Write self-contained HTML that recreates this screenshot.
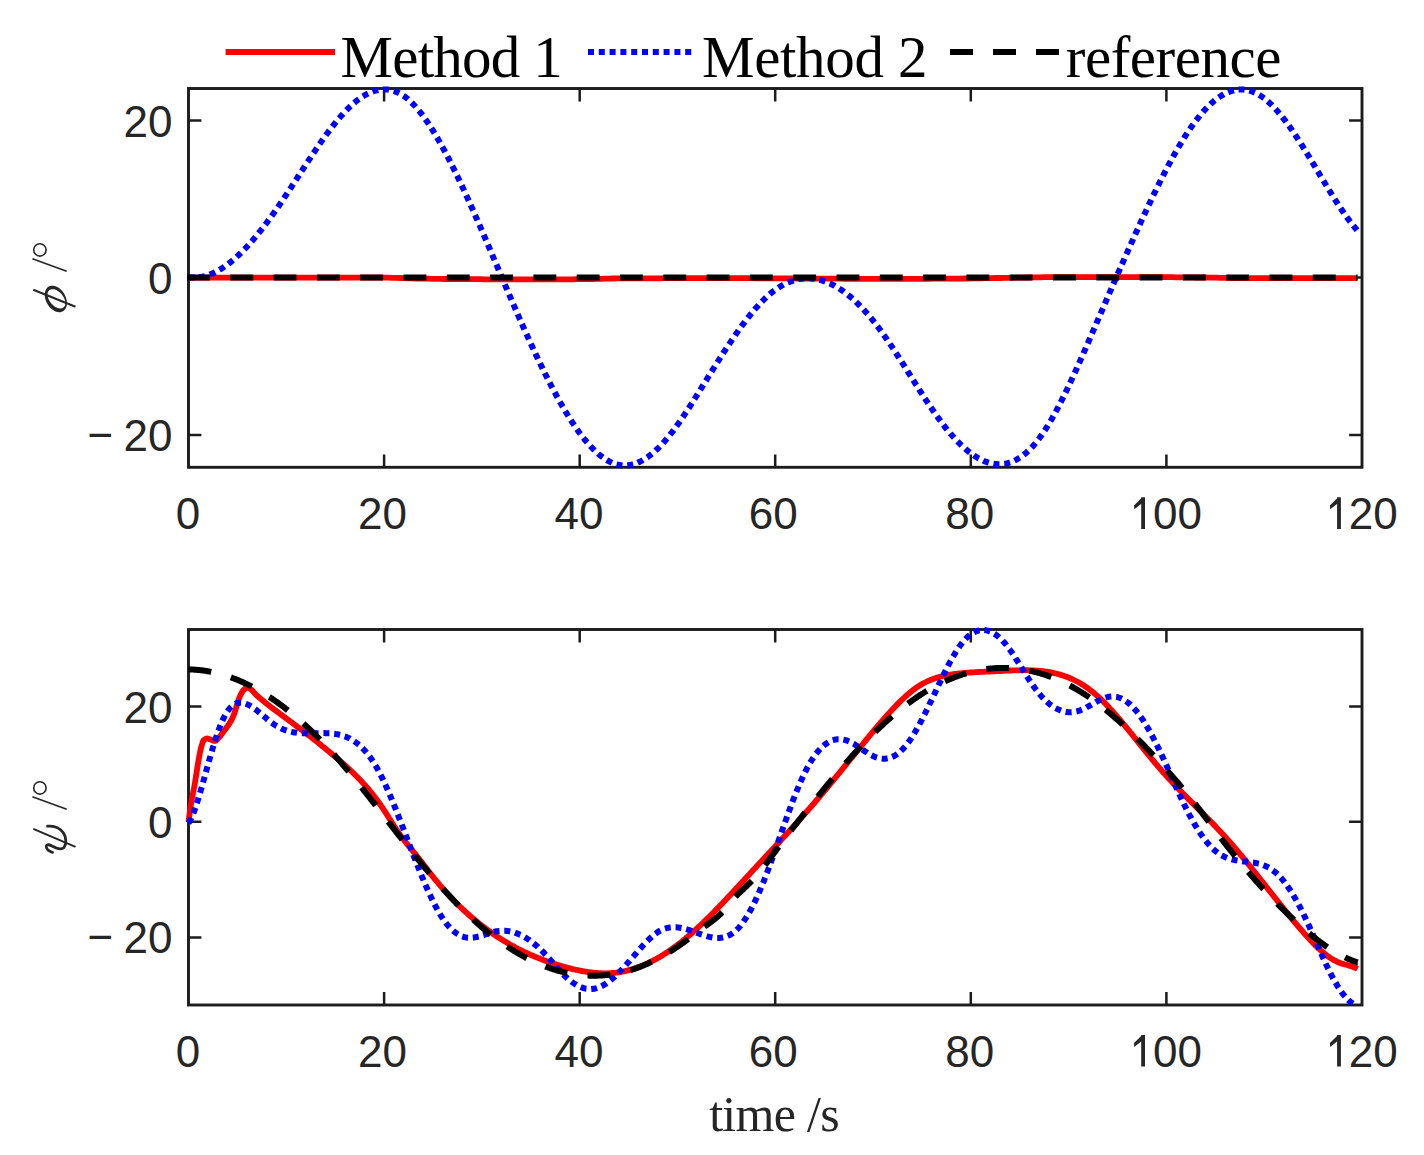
<!DOCTYPE html>
<html><head><meta charset="utf-8"><style>
html,body{margin:0;padding:0;background:#fff;}
svg{display:block;}
.tk{font-family:"Liberation Sans",sans-serif;font-size:44px;fill:#262626;}
.lg{font-family:"Liberation Serif",serif;font-size:59px;fill:#000;}
.xl{font-family:"Liberation Serif",serif;font-size:50px;fill:#262626;}
</style></head><body>
<svg width="1424" height="1155" viewBox="0 0 1424 1155">
<rect width="1424" height="1155" fill="#fff"/>
<rect x="188.5" y="88.5" width="1173.5" height="378.8" fill="none" stroke="#1c1c1c" stroke-width="2.9"/>
<path d="M384.1,467.3V454.4M384.1,88.5V101.4M579.7,467.3V454.4M579.7,88.5V101.4M775.2,467.3V454.4M775.2,88.5V101.4M970.8,467.3V454.4M970.8,88.5V101.4M1166.4,467.3V454.4M1166.4,88.5V101.4M188.5,120.5H201.4M1362.0,120.5H1349.1M188.5,277.6H201.4M1362.0,277.6H1349.1M188.5,435.0H201.4M1362.0,435.0H1349.1" stroke="#1c1c1c" stroke-width="2.5" fill="none"/>
<text x="188.0" y="529.0" text-anchor="middle" class="tk">0</text>
<text x="382.6" y="529.0" text-anchor="middle" class="tk">20</text>
<text x="579.1" y="529.0" text-anchor="middle" class="tk">40</text>
<text x="773.2" y="529.0" text-anchor="middle" class="tk">60</text>
<text x="969.8" y="529.0" text-anchor="middle" class="tk">80</text>
<path d="M1141.2,529.0V497.3H1145.0V529.0ZM1134.0,505.5L1142.2,497.3L1141.4,503.7L1134.3,509.3Z" fill="#262626"/>
<text x="1153.1" y="529.0" class="tk">00</text>
<path d="M1337.1,529.0V497.3H1340.9V529.0ZM1329.9,505.5L1338.1,497.3L1337.3,503.7L1330.2,509.3Z" fill="#262626"/>
<text x="1348.7" y="529.0" class="tk">20</text>
<text x="172.5" y="137.1" text-anchor="end" class="tk">20</text>
<text x="172.5" y="294.2" text-anchor="end" class="tk">0</text>
<text x="172.5" y="451.0" text-anchor="end" class="tk">20</text>
<text x="100.3" y="450.0" text-anchor="middle" class="tk">&#8722;</text>
<path d="M188.5,277.6 192.5,277.6 196.5,277.6 200.5,277.6 204.5,277.6 208.5,277.6 212.5,277.6 216.5,277.6 220.5,277.6 224.5,277.6 228.5,277.6 232.5,277.6 236.5,277.6 240.5,277.6 244.5,277.6 248.5,277.6 252.5,277.6 256.5,277.6 260.5,277.6 264.5,277.6 268.5,277.6 272.5,277.6 276.5,277.6 280.5,277.6 284.5,277.6 288.5,277.6 292.5,277.6 296.5,277.6 300.5,277.6 304.5,277.6 308.5,277.6 312.5,277.6 316.5,277.6 320.5,277.6 324.5,277.6 328.5,277.6 332.5,277.6 336.5,277.6 340.5,277.6 344.5,277.6 348.5,277.6 352.5,277.6 356.5,277.6 360.5,277.6 364.5,277.6 368.5,277.6 372.5,277.6 376.5,277.6 380.5,277.6 384.5,277.6 388.5,277.7 392.5,277.8 396.5,277.9 400.5,278.0 404.5,278.2 408.5,278.3 412.5,278.4 416.5,278.5 420.5,278.6 424.5,278.7 428.5,278.7 432.5,278.8 436.5,278.9 440.5,278.9 444.5,279.0 448.5,279.0 452.5,279.1 456.5,279.1 460.5,279.1 464.5,279.2 468.5,279.2 472.5,279.2 476.5,279.2 480.5,279.2 484.5,279.3 488.5,279.3 492.5,279.3 496.5,279.3 500.5,279.3 504.5,279.3 508.5,279.4 512.5,279.4 516.5,279.4 520.5,279.4 524.5,279.4 528.5,279.4 532.5,279.4 536.5,279.4 540.5,279.4 544.5,279.4 548.5,279.4 552.5,279.4 556.5,279.4 560.5,279.3 564.5,279.3 568.5,279.3 572.5,279.3 576.5,279.2 580.5,279.2 584.5,279.1 588.5,279.1 592.5,279.0 596.5,278.9 600.5,278.8 604.5,278.7 608.5,278.6 612.5,278.5 616.5,278.4 620.5,278.4 624.5,278.4 628.5,278.4 632.5,278.3 636.5,278.3 640.5,278.3 644.5,278.3 648.5,278.3 652.5,278.3 656.5,278.3 660.5,278.3 664.5,278.2 668.5,278.2 672.5,278.2 676.5,278.2 680.5,278.2 684.5,278.2 688.5,278.2 692.5,278.2 696.5,278.2 700.5,278.2 704.5,278.2 708.5,278.2 712.5,278.2 716.5,278.2 720.5,278.2 724.5,278.2 728.5,278.2 732.5,278.2 736.5,278.2 740.5,278.2 744.5,278.2 748.5,278.2 752.5,278.2 756.5,278.3 760.5,278.3 764.5,278.3 768.5,278.3 772.5,278.3 776.5,278.3 780.5,278.3 784.5,278.3 788.5,278.4 792.5,278.4 796.5,278.5 800.5,278.5 804.5,278.6 808.5,278.6 812.5,278.7 816.5,278.7 820.5,278.7 824.5,278.7 828.5,278.7 832.5,278.7 836.5,278.7 840.5,278.7 844.5,278.8 848.5,278.8 852.5,278.8 856.5,278.8 860.5,278.8 864.5,278.8 868.5,278.8 872.5,278.8 876.5,278.8 880.5,278.8 884.5,278.8 888.5,278.8 892.5,278.8 896.5,278.8 900.5,278.8 904.5,278.8 908.5,278.8 912.5,278.8 916.5,278.8 920.5,278.8 924.5,278.8 928.5,278.8 932.5,278.7 936.5,278.7 940.5,278.7 944.5,278.7 948.5,278.7 952.5,278.7 956.5,278.6 960.5,278.6 964.5,278.5 968.5,278.5 972.5,278.4 976.5,278.4 980.5,278.3 984.5,278.2 988.5,278.2 992.5,278.1 996.5,278.0 1000.5,278.0 1004.5,277.9 1008.5,277.9 1012.5,277.8 1016.5,277.7 1020.5,277.6 1024.5,277.6 1028.5,277.5 1032.5,277.4 1036.5,277.3 1040.5,277.3 1044.5,277.2 1048.5,277.2 1052.5,277.1 1056.5,277.1 1060.5,277.1 1064.5,277.1 1068.5,277.1 1072.5,277.1 1076.5,277.1 1080.5,277.1 1084.5,277.1 1088.5,277.1 1092.5,277.1 1096.5,277.1 1100.5,277.1 1104.5,277.1 1108.5,277.1 1112.5,277.1 1116.5,277.1 1120.5,277.1 1124.5,277.1 1128.5,277.1 1132.5,277.1 1136.5,277.1 1140.5,277.1 1144.5,277.1 1148.5,277.1 1152.5,277.1 1156.5,277.1 1160.5,277.1 1164.5,277.2 1168.5,277.2 1172.5,277.2 1176.5,277.3 1180.5,277.3 1184.5,277.3 1188.5,277.4 1192.5,277.4 1196.5,277.5 1200.5,277.5 1204.5,277.5 1208.5,277.6 1212.5,277.7 1216.5,277.7 1220.5,277.8 1224.5,277.8 1228.5,277.9 1232.5,278.0 1236.5,278.0 1240.5,278.1 1244.5,278.1 1248.5,278.1 1252.5,278.2 1256.5,278.2 1260.5,278.2 1264.5,278.2 1268.5,278.2 1272.5,278.2 1276.5,278.2 1280.5,278.2 1284.5,278.2 1288.5,278.2 1292.5,278.2 1296.5,278.2 1300.5,278.2 1304.5,278.2 1308.5,278.2 1312.5,278.2 1316.5,278.2 1320.5,278.2 1324.5,278.2 1328.5,278.2 1332.5,278.2 1336.5,278.2 1340.5,278.2 1344.5,278.2 1348.5,278.2 1352.5,278.2 1356.5,278.2 1357.5,278.2" fill="none" stroke="#ff0000" stroke-width="5.8" stroke-linejoin="round"/>
<path d="M188.5,277.2 189.5,277.3 190.5,277.4 191.5,277.5 192.5,277.5 193.5,277.6 194.5,277.6 195.5,277.5 196.5,277.5 197.5,277.4 198.5,277.3 199.5,277.2 200.5,277.0 201.5,276.9 202.5,276.7 203.5,276.4 204.5,276.2 205.5,275.9 206.5,275.6 207.5,275.3 208.5,275.0 209.5,274.6 210.5,274.2 211.5,273.8 212.5,273.4 213.5,273.0 214.5,272.5 215.5,272.0 216.5,271.5 217.5,271.0 218.5,270.4 219.5,269.8 220.5,269.2 221.5,268.6 222.5,268.0 223.5,267.3 224.5,266.6 225.5,265.9 226.5,265.2 227.5,264.5 228.5,263.7 229.5,263.0 230.5,262.2 231.5,261.4 232.5,260.5 233.5,259.7 234.5,258.8 235.5,257.9 236.5,257.0 237.5,256.1 238.5,255.2 239.5,254.2 240.5,253.3 241.5,252.3 242.5,251.3 243.5,250.3 244.5,249.3 245.5,248.2 246.5,247.2 247.5,246.1 248.5,245.0 249.5,243.9 250.5,242.8 251.5,241.6 252.5,240.5 253.5,239.3 254.5,238.1 255.5,236.9 256.5,235.7 257.5,234.5 258.5,233.3 259.5,232.0 260.5,230.8 261.5,229.5 262.5,228.2 263.5,227.0 264.5,225.6 265.5,224.3 266.5,223.0 267.5,221.7 268.5,220.3 269.5,219.0 270.5,217.6 271.5,216.2 272.5,214.8 273.5,213.4 274.5,212.0 275.5,210.6 276.5,209.1 277.5,207.7 278.5,206.3 279.5,204.8 280.5,203.3 281.5,201.9 282.5,200.4 283.5,198.9 284.5,197.4 285.5,195.9 286.5,194.4 287.5,192.9 288.5,191.3 289.5,189.8 290.5,188.3 291.5,186.8 292.5,185.2 293.5,183.7 294.5,182.1 295.5,180.6 296.5,179.1 297.5,177.5 298.5,176.0 299.5,174.4 300.5,172.9 301.5,171.3 302.5,169.8 303.5,168.3 304.5,166.7 305.5,165.2 306.5,163.7 307.5,162.1 308.5,160.6 309.5,159.1 310.5,157.6 311.5,156.0 312.5,154.5 313.5,153.0 314.5,151.6 315.5,150.1 316.5,148.6 317.5,147.1 318.5,145.7 319.5,144.2 320.5,142.8 321.5,141.3 322.5,139.9 323.5,138.5 324.5,137.1 325.5,135.7 326.5,134.3 327.5,133.0 328.5,131.6 329.5,130.3 330.5,129.0 331.5,127.7 332.5,126.4 333.5,125.1 334.5,123.8 335.5,122.6 336.5,121.4 337.5,120.1 338.5,118.9 339.5,117.8 340.5,116.6 341.5,115.5 342.5,114.4 343.5,113.3 344.5,112.2 345.5,111.1 346.5,110.1 347.5,109.1 348.5,108.1 349.5,107.1 350.5,106.1 351.5,105.2 352.5,104.3 353.5,103.4 354.5,102.6 355.5,101.7 356.5,100.9 357.5,100.2 358.5,99.4 359.5,98.7 360.5,98.0 361.5,97.3 362.5,96.6 363.5,96.0 364.5,95.4 365.5,94.8 366.5,94.3 367.5,93.8 368.5,93.3 369.5,92.8 370.5,92.4 371.5,92.0 372.5,91.6 373.5,91.2 374.5,90.9 375.5,90.6 376.5,90.4 377.5,90.2 378.5,90.0 379.5,89.8 380.5,89.7 381.5,89.6 382.5,89.5 383.5,89.4 384.5,89.4 385.5,89.5 386.5,89.5 387.5,89.6 388.5,89.7 389.5,89.9 390.5,90.1 391.5,90.3 392.5,90.6 393.5,90.9 394.5,91.2 395.5,91.6 396.5,92.0 397.5,92.4 398.5,92.9 399.5,93.4 400.5,93.9 401.5,94.5 402.5,95.2 403.5,95.8 404.5,96.5 405.5,97.2 406.5,98.0 407.5,98.8 408.5,99.7 409.5,100.6 410.5,101.5 411.5,102.4 412.5,103.4 413.5,104.5 414.5,105.5 415.5,106.6 416.5,107.8 417.5,108.9 418.5,110.1 419.5,111.3 420.5,112.6 421.5,113.9 422.5,115.2 423.5,116.5 424.5,117.9 425.5,119.3 426.5,120.8 427.5,122.2 428.5,123.7 429.5,125.2 430.5,126.8 431.5,128.3 432.5,129.9 433.5,131.5 434.5,133.2 435.5,134.8 436.5,136.5 437.5,138.2 438.5,140.0 439.5,141.7 440.5,143.5 441.5,145.3 442.5,147.1 443.5,149.0 444.5,150.8 445.5,152.7 446.5,154.6 447.5,156.5 448.5,158.4 449.5,160.4 450.5,162.3 451.5,164.3 452.5,166.3 453.5,168.3 454.5,170.4 455.5,172.4 456.5,174.5 457.5,176.5 458.5,178.6 459.5,180.7 460.5,182.9 461.5,185.0 462.5,187.1 463.5,189.3 464.5,191.4 465.5,193.6 466.5,195.8 467.5,198.0 468.5,200.2 469.5,202.4 470.5,204.7 471.5,206.9 472.5,209.1 473.5,211.4 474.5,213.7 475.5,215.9 476.5,218.2 477.5,220.5 478.5,222.8 479.5,225.1 480.5,227.4 481.5,229.7 482.5,232.0 483.5,234.4 484.5,236.7 485.5,239.0 486.5,241.3 487.5,243.7 488.5,246.0 489.5,248.4 490.5,250.7 491.5,253.1 492.5,255.4 493.5,257.8 494.5,260.1 495.5,262.5 496.5,264.8 497.5,267.2 498.5,269.5 499.5,271.9 500.5,274.2 501.5,276.6 502.5,278.9 503.5,281.3 504.5,283.6 505.5,286.0 506.5,288.3 507.5,290.6 508.5,293.0 509.5,295.3 510.5,297.6 511.5,300.0 512.5,302.3 513.5,304.6 514.5,306.9 515.5,309.2 516.5,311.5 517.5,313.8 518.5,316.1 519.5,318.4 520.5,320.6 521.5,322.9 522.5,325.2 523.5,327.4 524.5,329.7 525.5,331.9 526.5,334.1 527.5,336.3 528.5,338.6 529.5,340.8 530.5,343.0 531.5,345.1 532.5,347.3 533.5,349.5 534.5,351.6 535.5,353.8 536.5,355.9 537.5,358.0 538.5,360.1 539.5,362.2 540.5,364.3 541.5,366.4 542.5,368.4 543.5,370.5 544.5,372.5 545.5,374.5 546.5,376.5 547.5,378.5 548.5,380.5 549.5,382.4 550.5,384.4 551.5,386.3 552.5,388.2 553.5,390.1 554.5,392.0 555.5,393.8 556.5,395.7 557.5,397.5 558.5,399.3 559.5,401.1 560.5,402.9 561.5,404.6 562.5,406.4 563.5,408.1 564.5,409.8 565.5,411.5 566.5,413.1 567.5,414.8 568.5,416.4 569.5,418.0 570.5,419.6 571.5,421.1 572.5,422.7 573.5,424.2 574.5,425.7 575.5,427.1 576.5,428.6 577.5,430.0 578.5,431.4 579.5,432.8 580.5,434.1 581.5,435.4 582.5,436.7 583.5,438.0 584.5,439.3 585.5,440.5 586.5,441.7 587.5,442.9 588.5,444.0 589.5,445.1 590.5,446.2 591.5,447.3 592.5,448.3 593.5,449.4 594.5,450.3 595.5,451.3 596.5,452.2 597.5,453.1 598.5,454.0 599.5,454.8 600.5,455.7 601.5,456.4 602.5,457.2 603.5,457.9 604.5,458.6 605.5,459.3 606.5,459.9 607.5,460.5 608.5,461.0 609.5,461.6 610.5,462.1 611.5,462.5 612.5,463.0 613.5,463.4 614.5,463.7 615.5,464.1 616.5,464.4 617.5,464.6 618.5,464.8 619.5,465.0 620.5,465.2 621.5,465.3 622.5,465.4 623.5,465.5 624.5,465.5 625.5,465.5 626.5,465.4 627.5,465.3 628.5,465.2 629.5,465.1 630.5,464.9 631.5,464.7 632.5,464.4 633.5,464.2 634.5,463.9 635.5,463.5 636.5,463.2 637.5,462.8 638.5,462.3 639.5,461.9 640.5,461.4 641.5,460.9 642.5,460.3 643.5,459.7 644.5,459.1 645.5,458.5 646.5,457.8 647.5,457.2 648.5,456.4 649.5,455.7 650.5,454.9 651.5,454.1 652.5,453.3 653.5,452.5 654.5,451.6 655.5,450.7 656.5,449.7 657.5,448.8 658.5,447.8 659.5,446.8 660.5,445.8 661.5,444.7 662.5,443.7 663.5,442.5 664.5,441.4 665.5,440.3 666.5,439.1 667.5,437.9 668.5,436.7 669.5,435.5 670.5,434.2 671.5,432.9 672.5,431.6 673.5,430.3 674.5,429.0 675.5,427.6 676.5,426.2 677.5,424.8 678.5,423.4 679.5,422.0 680.5,420.5 681.5,419.1 682.5,417.6 683.5,416.1 684.5,414.6 685.5,413.1 686.5,411.6 687.5,410.1 688.5,408.5 689.5,407.0 690.5,405.4 691.5,403.8 692.5,402.2 693.5,400.7 694.5,399.1 695.5,397.5 696.5,395.9 697.5,394.3 698.5,392.7 699.5,391.1 700.5,389.5 701.5,387.8 702.5,386.2 703.5,384.6 704.5,383.0 705.5,381.4 706.5,379.8 707.5,378.2 708.5,376.5 709.5,374.9 710.5,373.3 711.5,371.7 712.5,370.1 713.5,368.5 714.5,366.9 715.5,365.3 716.5,363.7 717.5,362.1 718.5,360.6 719.5,359.0 720.5,357.4 721.5,355.8 722.5,354.3 723.5,352.7 724.5,351.2 725.5,349.6 726.5,348.1 727.5,346.6 728.5,345.1 729.5,343.6 730.5,342.1 731.5,340.6 732.5,339.1 733.5,337.6 734.5,336.2 735.5,334.7 736.5,333.3 737.5,331.9 738.5,330.4 739.5,329.0 740.5,327.7 741.5,326.3 742.5,324.9 743.5,323.6 744.5,322.2 745.5,320.9 746.5,319.6 747.5,318.3 748.5,317.0 749.5,315.8 750.5,314.5 751.5,313.3 752.5,312.1 753.5,310.9 754.5,309.7 755.5,308.5 756.5,307.4 757.5,306.3 758.5,305.2 759.5,304.1 760.5,303.0 761.5,302.0 762.5,301.0 763.5,300.0 764.5,299.0 765.5,298.0 766.5,297.1 767.5,296.2 768.5,295.3 769.5,294.4 770.5,293.5 771.5,292.7 772.5,291.9 773.5,291.1 774.5,290.4 775.5,289.7 776.5,288.9 777.5,288.3 778.5,287.6 779.5,287.0 780.5,286.4 781.5,285.8 782.5,285.2 783.5,284.6 784.5,284.1 785.5,283.6 786.5,283.2 787.5,282.7 788.5,282.3 789.5,281.9 790.5,281.5 791.5,281.1 792.5,280.8 793.5,280.4 794.5,280.2 795.5,279.9 796.5,279.6 797.5,279.4 798.5,279.2 799.5,279.0 800.5,278.8 801.5,278.7 802.5,278.6 803.5,278.5 804.5,278.4 805.5,278.3 806.5,278.3 807.5,278.3 808.5,278.3 809.5,278.3 810.5,278.4 811.5,278.4 812.5,278.5 813.5,278.7 814.5,278.8 815.5,278.9 816.5,279.1 817.5,279.3 818.5,279.5 819.5,279.8 820.5,280.0 821.5,280.3 822.5,280.6 823.5,280.9 824.5,281.3 825.5,281.6 826.5,282.0 827.5,282.4 828.5,282.8 829.5,283.3 830.5,283.7 831.5,284.2 832.5,284.7 833.5,285.2 834.5,285.7 835.5,286.3 836.5,286.9 837.5,287.5 838.5,288.1 839.5,288.7 840.5,289.4 841.5,290.0 842.5,290.7 843.5,291.4 844.5,292.2 845.5,292.9 846.5,293.7 847.5,294.5 848.5,295.3 849.5,296.1 850.5,296.9 851.5,297.8 852.5,298.7 853.5,299.6 854.5,300.5 855.5,301.4 856.5,302.4 857.5,303.3 858.5,304.3 859.5,305.3 860.5,306.3 861.5,307.4 862.5,308.4 863.5,309.5 864.5,310.6 865.5,311.7 866.5,312.8 867.5,314.0 868.5,315.1 869.5,316.3 870.5,317.5 871.5,318.7 872.5,319.9 873.5,321.2 874.5,322.4 875.5,323.7 876.5,325.0 877.5,326.3 878.5,327.6 879.5,329.0 880.5,330.3 881.5,331.7 882.5,333.1 883.5,334.5 884.5,335.9 885.5,337.4 886.5,338.8 887.5,340.3 888.5,341.7 889.5,343.2 890.5,344.7 891.5,346.2 892.5,347.7 893.5,349.2 894.5,350.7 895.5,352.3 896.5,353.8 897.5,355.3 898.5,356.9 899.5,358.5 900.5,360.0 901.5,361.6 902.5,363.2 903.5,364.7 904.5,366.3 905.5,367.9 906.5,369.5 907.5,371.1 908.5,372.7 909.5,374.2 910.5,375.8 911.5,377.4 912.5,379.0 913.5,380.6 914.5,382.2 915.5,383.8 916.5,385.3 917.5,386.9 918.5,388.5 919.5,390.1 920.5,391.6 921.5,393.2 922.5,394.7 923.5,396.3 924.5,397.8 925.5,399.3 926.5,400.9 927.5,402.4 928.5,403.9 929.5,405.4 930.5,406.9 931.5,408.3 932.5,409.8 933.5,411.2 934.5,412.7 935.5,414.1 936.5,415.5 937.5,416.9 938.5,418.3 939.5,419.7 940.5,421.0 941.5,422.4 942.5,423.7 943.5,425.0 944.5,426.3 945.5,427.6 946.5,428.8 947.5,430.1 948.5,431.3 949.5,432.5 950.5,433.7 951.5,434.8 952.5,436.0 953.5,437.1 954.5,438.2 955.5,439.3 956.5,440.4 957.5,441.4 958.5,442.4 959.5,443.4 960.5,444.4 961.5,445.4 962.5,446.3 963.5,447.2 964.5,448.1 965.5,449.0 966.5,449.9 967.5,450.7 968.5,451.5 969.5,452.3 970.5,453.0 971.5,453.8 972.5,454.5 973.5,455.2 974.5,455.9 975.5,456.5 976.5,457.1 977.5,457.7 978.5,458.3 979.5,458.8 980.5,459.4 981.5,459.9 982.5,460.3 983.5,460.8 984.5,461.2 985.5,461.6 986.5,461.9 987.5,462.3 988.5,462.6 989.5,462.9 990.5,463.1 991.5,463.4 992.5,463.6 993.5,463.8 994.5,463.9 995.5,464.0 996.5,464.1 997.5,464.2 998.5,464.2 999.5,464.2 1000.5,464.2 1001.5,464.1 1002.5,464.0 1003.5,463.9 1004.5,463.8 1005.5,463.6 1006.5,463.4 1007.5,463.2 1008.5,462.9 1009.5,462.6 1010.5,462.3 1011.5,461.9 1012.5,461.5 1013.5,461.1 1014.5,460.6 1015.5,460.1 1016.5,459.6 1017.5,459.0 1018.5,458.4 1019.5,457.8 1020.5,457.2 1021.5,456.5 1022.5,455.7 1023.5,455.0 1024.5,454.2 1025.5,453.4 1026.5,452.5 1027.5,451.6 1028.5,450.7 1029.5,449.7 1030.5,448.7 1031.5,447.6 1032.5,446.6 1033.5,445.5 1034.5,444.3 1035.5,443.1 1036.5,441.9 1037.5,440.6 1038.5,439.3 1039.5,438.0 1040.5,436.6 1041.5,435.2 1042.5,433.8 1043.5,432.3 1044.5,430.8 1045.5,429.3 1046.5,427.7 1047.5,426.1 1048.5,424.4 1049.5,422.8 1050.5,421.1 1051.5,419.4 1052.5,417.6 1053.5,415.8 1054.5,414.0 1055.5,412.2 1056.5,410.4 1057.5,408.5 1058.5,406.6 1059.5,404.6 1060.5,402.7 1061.5,400.7 1062.5,398.7 1063.5,396.7 1064.5,394.7 1065.5,392.6 1066.5,390.6 1067.5,388.5 1068.5,386.4 1069.5,384.3 1070.5,382.1 1071.5,380.0 1072.5,377.8 1073.5,375.6 1074.5,373.4 1075.5,371.2 1076.5,369.0 1077.5,366.8 1078.5,364.5 1079.5,362.3 1080.5,360.0 1081.5,357.7 1082.5,355.5 1083.5,353.2 1084.5,350.9 1085.5,348.6 1086.5,346.3 1087.5,344.0 1088.5,341.7 1089.5,339.4 1090.5,337.0 1091.5,334.7 1092.5,332.4 1093.5,330.1 1094.5,327.8 1095.5,325.4 1096.5,323.1 1097.5,320.8 1098.5,318.5 1099.5,316.2 1100.5,313.8 1101.5,311.5 1102.5,309.2 1103.5,306.9 1104.5,304.5 1105.5,302.2 1106.5,299.9 1107.5,297.6 1108.5,295.3 1109.5,292.9 1110.5,290.6 1111.5,288.3 1112.5,286.0 1113.5,283.7 1114.5,281.4 1115.5,279.1 1116.5,276.8 1117.5,274.5 1118.5,272.2 1119.5,269.9 1120.5,267.6 1121.5,265.3 1122.5,263.1 1123.5,260.8 1124.5,258.5 1125.5,256.2 1126.5,254.0 1127.5,251.7 1128.5,249.4 1129.5,247.2 1130.5,244.9 1131.5,242.7 1132.5,240.5 1133.5,238.2 1134.5,236.0 1135.5,233.8 1136.5,231.6 1137.5,229.4 1138.5,227.2 1139.5,225.0 1140.5,222.8 1141.5,220.6 1142.5,218.4 1143.5,216.2 1144.5,214.1 1145.5,211.9 1146.5,209.8 1147.5,207.6 1148.5,205.5 1149.5,203.4 1150.5,201.3 1151.5,199.2 1152.5,197.1 1153.5,195.0 1154.5,192.9 1155.5,190.9 1156.5,188.8 1157.5,186.8 1158.5,184.8 1159.5,182.7 1160.5,180.7 1161.5,178.7 1162.5,176.8 1163.5,174.8 1164.5,172.9 1165.5,170.9 1166.5,169.0 1167.5,167.1 1168.5,165.2 1169.5,163.3 1170.5,161.5 1171.5,159.6 1172.5,157.8 1173.5,156.0 1174.5,154.2 1175.5,152.4 1176.5,150.7 1177.5,148.9 1178.5,147.2 1179.5,145.5 1180.5,143.8 1181.5,142.2 1182.5,140.5 1183.5,138.9 1184.5,137.3 1185.5,135.7 1186.5,134.2 1187.5,132.7 1188.5,131.1 1189.5,129.7 1190.5,128.2 1191.5,126.7 1192.5,125.3 1193.5,123.9 1194.5,122.6 1195.5,121.2 1196.5,119.9 1197.5,118.6 1198.5,117.3 1199.5,116.1 1200.5,114.8 1201.5,113.6 1202.5,112.5 1203.5,111.3 1204.5,110.2 1205.5,109.1 1206.5,108.1 1207.5,107.1 1208.5,106.1 1209.5,105.1 1210.5,104.1 1211.5,103.2 1212.5,102.3 1213.5,101.5 1214.5,100.6 1215.5,99.8 1216.5,99.1 1217.5,98.3 1218.5,97.6 1219.5,96.9 1220.5,96.2 1221.5,95.6 1222.5,95.0 1223.5,94.5 1224.5,93.9 1225.5,93.4 1226.5,92.9 1227.5,92.5 1228.5,92.1 1229.5,91.7 1230.5,91.3 1231.5,91.0 1232.5,90.7 1233.5,90.5 1234.5,90.2 1235.5,90.0 1236.5,89.9 1237.5,89.7 1238.5,89.6 1239.5,89.6 1240.5,89.5 1241.5,89.5 1242.5,89.5 1243.5,89.6 1244.5,89.7 1245.5,89.8 1246.5,90.0 1247.5,90.2 1248.5,90.4 1249.5,90.7 1250.5,91.0 1251.5,91.3 1252.5,91.6 1253.5,92.0 1254.5,92.5 1255.5,92.9 1256.5,93.4 1257.5,94.0 1258.5,94.5 1259.5,95.1 1260.5,95.8 1261.5,96.4 1262.5,97.1 1263.5,97.9 1264.5,98.6 1265.5,99.4 1266.5,100.3 1267.5,101.1 1268.5,102.0 1269.5,102.9 1270.5,103.9 1271.5,104.8 1272.5,105.8 1273.5,106.9 1274.5,107.9 1275.5,109.0 1276.5,110.1 1277.5,111.2 1278.5,112.4 1279.5,113.6 1280.5,114.8 1281.5,116.0 1282.5,117.3 1283.5,118.5 1284.5,119.8 1285.5,121.1 1286.5,122.5 1287.5,123.8 1288.5,125.2 1289.5,126.6 1290.5,128.0 1291.5,129.4 1292.5,130.9 1293.5,132.3 1294.5,133.8 1295.5,135.3 1296.5,136.8 1297.5,138.3 1298.5,139.9 1299.5,141.4 1300.5,143.0 1301.5,144.6 1302.5,146.2 1303.5,147.8 1304.5,149.4 1305.5,151.0 1306.5,152.6 1307.5,154.3 1308.5,155.9 1309.5,157.5 1310.5,159.2 1311.5,160.9 1312.5,162.5 1313.5,164.2 1314.5,165.8 1315.5,167.5 1316.5,169.2 1317.5,170.9 1318.5,172.5 1319.5,174.2 1320.5,175.9 1321.5,177.6 1322.5,179.2 1323.5,180.9 1324.5,182.5 1325.5,184.2 1326.5,185.9 1327.5,187.5 1328.5,189.1 1329.5,190.8 1330.5,192.4 1331.5,194.0 1332.5,195.6 1333.5,197.2 1334.5,198.8 1335.5,200.4 1336.5,201.9 1337.5,203.5 1338.5,205.0 1339.5,206.5 1340.5,208.0 1341.5,209.5 1342.5,211.0 1343.5,212.4 1344.5,213.9 1345.5,215.3 1346.5,216.7 1347.5,218.1 1348.5,219.4 1349.5,220.8 1350.5,222.1 1351.5,223.4 1352.5,224.7 1353.5,225.9 1354.5,227.1 1355.5,228.3 1356.5,229.5 1357.5,230.7" fill="none" stroke="#0000ff" stroke-width="6" stroke-dasharray="6 4.8"/>
<path d="M187.0,277.5H1357.5" fill="none" stroke="#000000" stroke-width="6" stroke-dasharray="22.9 20.4"/>
<rect x="188.5" y="629.5" width="1173.5" height="375.5" fill="none" stroke="#1c1c1c" stroke-width="2.9"/>
<path d="M384.1,1005.0V992.1M384.1,629.5V642.4M579.7,1005.0V992.1M579.7,629.5V642.4M775.2,1005.0V992.1M775.2,629.5V642.4M970.8,1005.0V992.1M970.8,629.5V642.4M1166.4,1005.0V992.1M1166.4,629.5V642.4M188.5,706.4H201.4M1362.0,706.4H1349.1M188.5,821.8H201.4M1362.0,821.8H1349.1M188.5,937.4H201.4M1362.0,937.4H1349.1" stroke="#1c1c1c" stroke-width="2.5" fill="none"/>
<text x="188.0" y="1066.6" text-anchor="middle" class="tk">0</text>
<text x="382.6" y="1066.6" text-anchor="middle" class="tk">20</text>
<text x="579.1" y="1066.6" text-anchor="middle" class="tk">40</text>
<text x="773.2" y="1066.6" text-anchor="middle" class="tk">60</text>
<text x="969.8" y="1066.6" text-anchor="middle" class="tk">80</text>
<path d="M1141.2,1066.6V1034.9H1145.0V1066.6ZM1134.0,1043.1L1142.2,1034.9L1141.4,1041.3L1134.3,1046.9Z" fill="#262626"/>
<text x="1153.1" y="1066.6" class="tk">00</text>
<path d="M1337.1,1066.6V1034.9H1340.9V1066.6ZM1329.9,1043.1L1338.1,1034.9L1337.3,1041.3L1330.2,1046.9Z" fill="#262626"/>
<text x="1348.7" y="1066.6" class="tk">20</text>
<text x="172.5" y="723.0" text-anchor="end" class="tk">20</text>
<text x="172.5" y="838.4" text-anchor="end" class="tk">0</text>
<text x="172.5" y="953.4" text-anchor="end" class="tk">20</text>
<text x="100.3" y="952.4" text-anchor="middle" class="tk">&#8722;</text>
<path d="M188.5,821.9 189.0,818.1 189.5,814.3 190.0,810.7 190.5,807.3 191.0,804.1 191.5,801.1 192.0,798.4 192.5,795.8 193.0,793.3 193.5,790.7 194.0,788.2 194.5,785.5 195.0,782.6 195.5,779.5 196.0,776.3 196.5,773.0 197.0,769.7 197.5,766.5 198.0,763.5 198.5,760.5 199.0,757.7 199.5,755.0 200.0,752.5 200.5,750.2 201.0,748.0 201.5,746.1 202.0,744.5 202.5,742.8 203.0,741.4 203.5,740.4 204.0,739.9 204.5,739.6 205.0,739.2 205.5,738.9 206.0,738.7 206.5,738.6 207.0,738.5 207.5,738.5 208.0,738.6 208.5,738.8 209.0,739.0 209.5,739.2 210.0,739.4 210.5,739.6 211.0,739.7 211.5,739.9 212.0,740.1 212.5,740.3 213.0,740.5 213.5,740.7 214.0,740.8 214.5,740.9 215.0,740.9 215.5,740.8 216.0,740.5 216.5,740.1 217.0,739.7 217.5,739.2 218.0,738.6 218.5,738.0 219.0,737.5 219.5,736.9 220.0,736.4 220.5,735.8 221.0,735.1 221.5,734.4 222.0,733.7 222.5,733.0 223.0,732.3 223.5,731.6 224.0,730.9 224.5,730.3 225.0,729.6 225.5,729.0 226.0,728.3 226.5,727.7 227.0,727.0 227.5,726.3 228.0,725.6 228.5,724.8 229.0,724.1 229.5,723.3 230.0,722.5 230.5,721.7 231.0,720.9 231.5,720.0 232.0,719.0 232.5,718.0 233.0,716.8 233.5,715.6 234.0,714.4 234.5,713.0 235.0,711.6 235.5,710.0 236.0,708.3 236.5,706.6 237.0,704.8 237.5,703.2 238.0,701.7 238.5,700.2 239.0,698.7 239.5,697.3 240.0,696.1 240.5,695.0 241.0,694.0 241.5,693.1 242.0,692.2 242.5,691.4 243.0,690.7 243.5,690.1 244.0,689.6 244.5,689.2 245.0,688.7 245.5,688.3 246.0,688.0 246.5,687.8 247.0,687.6 247.5,687.6 248.0,687.7 248.5,687.8 249.0,688.0 249.5,688.3 250.0,688.6 250.5,689.0 251.0,689.4 251.5,689.9 252.0,690.4 252.5,690.9 253.0,691.4 253.5,692.0 254.0,692.5 254.5,693.1 255.0,693.6 255.5,694.2 256.0,694.7 256.5,695.2 257.0,695.7 257.5,696.1 258.0,696.5 258.5,696.9 259.0,697.4 259.5,697.8 260.0,698.2 260.5,698.6 261.0,699.0 261.5,699.5 262.0,699.9 262.5,700.3 263.0,700.7 263.5,701.1 264.0,701.5 264.5,702.0 265.0,702.4 265.5,702.8 266.0,703.2 266.5,703.6 267.0,704.0 267.5,704.4 268.0,704.8 268.5,705.2 269.0,705.6 269.5,705.9 270.0,706.3 270.5,706.7 271.0,707.1 271.5,707.5 272.0,707.9 272.5,708.2 273.0,708.6 273.5,709.0 274.0,709.4 274.5,709.7 275.0,710.1 275.5,710.5 276.0,710.8 276.5,711.2 277.0,711.6 277.5,712.0 278.0,712.3 278.5,712.7 279.0,713.1 279.5,713.4 280.0,713.8 280.5,714.2 281.0,714.5 281.5,714.9 282.0,715.3 282.5,715.6 283.0,716.0 283.5,716.4 284.0,716.7 284.5,717.1 285.0,717.5 285.5,717.9 286.0,718.2 286.5,718.6 287.0,719.0 287.5,719.3 288.0,719.7 288.5,720.1 289.0,720.5 289.5,720.8 290.0,721.2 290.5,721.6 291.0,721.9 291.5,722.3 292.0,722.7 292.5,723.1 293.0,723.4 293.5,723.8 294.0,724.2 294.5,724.6 295.0,724.9 295.5,725.3 296.0,725.7 296.5,726.0 297.0,726.4 297.5,726.8 298.0,727.2 298.5,727.5 299.0,727.9 299.5,728.3 300.0,728.6 300.5,729.0 301.0,729.4 301.5,729.7 302.0,730.1 302.5,730.5 303.0,730.9 303.5,731.2 304.0,731.7 305.0,732.4 306.0,733.2 307.0,734.0 308.0,734.7 309.0,735.5 310.0,736.3 311.0,737.1 312.0,737.9 313.0,738.7 314.0,739.5 315.0,740.2 316.0,741.0 317.0,741.8 318.0,742.6 319.0,743.4 320.0,744.2 321.0,745.1 322.0,745.9 323.0,746.7 324.0,747.5 325.0,748.3 326.0,749.1 327.0,750.0 328.0,750.8 329.0,751.6 330.0,752.5 331.0,753.3 332.0,754.1 333.0,755.0 334.0,755.8 335.0,756.7 336.0,757.5 337.0,758.4 338.0,759.2 339.0,760.1 340.0,760.9 341.0,761.8 342.0,762.7 343.0,763.6 344.0,764.4 345.0,765.3 346.0,766.2 347.0,767.1 348.0,768.1 349.0,769.0 350.0,769.9 351.0,770.8 352.0,771.8 353.0,772.8 354.0,773.7 355.0,774.7 356.0,775.7 357.0,776.7 358.0,777.7 359.0,778.8 360.0,779.8 361.0,780.9 362.0,781.9 363.0,783.0 364.0,784.1 365.0,785.2 366.0,786.4 367.0,787.5 368.0,788.7 369.0,789.9 370.0,791.1 371.0,792.3 372.0,793.6 373.0,794.8 374.0,796.1 375.0,797.4 376.0,798.7 377.0,800.1 378.0,801.4 379.0,802.8 380.0,804.2 381.0,805.7 382.0,807.1 383.0,808.6 384.0,810.1 385.0,811.7 386.0,813.2 387.0,814.8 388.0,816.4 389.0,818.0 390.0,819.5 391.0,821.1 392.0,822.7 393.0,824.3 394.0,825.9 395.0,827.4 396.0,828.9 397.0,830.4 398.0,831.9 399.0,833.4 400.0,834.8 401.0,836.1 402.0,837.5 403.0,838.8 404.0,840.1 405.0,841.4 406.0,842.6 407.0,843.9 408.0,845.1 409.0,846.3 410.0,847.6 411.0,848.8 412.0,850.0 413.0,851.2 414.0,852.5 415.0,853.7 416.0,854.9 417.0,856.2 418.0,857.5 419.0,858.8 420.0,860.0 421.0,861.3 422.0,862.6 423.0,863.9 424.0,865.2 425.0,866.5 426.0,867.8 427.0,869.1 428.0,870.4 429.0,871.7 430.0,873.0 431.0,874.3 432.0,875.6 433.0,876.8 434.0,878.1 435.0,879.3 436.0,880.5 437.0,881.7 438.0,882.9 439.0,884.1 440.0,885.3 441.0,886.5 442.0,887.6 443.0,888.8 444.0,889.9 445.0,891.0 446.0,892.1 447.0,893.2 448.0,894.3 449.0,895.4 450.0,896.5 451.0,897.6 452.0,898.6 453.0,899.6 454.0,900.7 455.0,901.7 456.0,902.7 457.0,903.7 458.0,904.7 459.0,905.7 460.0,906.7 461.0,907.6 462.0,908.6 463.0,909.5 464.0,910.4 465.0,911.4 466.0,912.3 467.0,913.2 468.0,914.1 469.0,915.0 470.0,915.9 471.0,916.7 472.0,917.6 473.0,918.5 474.0,919.3 475.0,920.1 476.0,921.0 477.0,921.8 478.0,922.6 479.0,923.4 480.0,924.2 481.0,925.0 482.0,925.8 483.0,926.5 484.0,927.3 485.0,928.1 486.0,928.8 487.0,929.5 488.0,930.3 489.0,931.0 490.0,931.7 491.0,932.4 492.0,933.1 493.0,933.8 494.0,934.5 495.0,935.2 496.0,935.8 497.0,936.5 498.0,937.2 499.0,937.8 500.0,938.4 501.0,939.1 502.0,939.7 503.0,940.3 504.0,940.9 505.0,941.5 506.0,942.1 507.0,942.7 508.0,943.3 509.0,943.9 510.0,944.5 511.0,945.0 512.0,945.6 513.0,946.1 514.0,946.7 515.0,947.2 516.0,947.8 517.0,948.3 518.0,948.8 519.0,949.3 520.0,949.8 521.0,950.3 522.0,950.8 523.0,951.3 524.0,951.8 525.0,952.3 526.0,952.7 527.0,953.2 528.0,953.7 529.0,954.1 530.0,954.6 531.0,955.0 532.0,955.4 533.0,955.9 534.0,956.3 535.0,956.7 536.0,957.1 537.0,957.5 538.0,957.9 539.0,958.3 540.0,958.7 541.0,959.1 542.0,959.5 543.0,959.9 544.0,960.3 545.0,960.6 546.0,961.0 547.0,961.3 548.0,961.7 549.0,962.0 550.0,962.4 551.0,962.7 552.0,963.1 553.0,963.4 554.0,963.7 555.0,964.0 556.0,964.4 557.0,964.7 558.0,965.0 559.0,965.3 560.0,965.6 561.0,965.9 562.0,966.2 563.0,966.5 564.0,966.8 565.0,967.0 566.0,967.3 567.0,967.6 568.0,967.9 569.0,968.1 570.0,968.4 571.0,968.6 572.0,968.9 573.0,969.1 574.0,969.4 575.0,969.6 576.0,969.8 577.0,970.0 578.0,970.2 579.0,970.5 580.0,970.7 581.0,970.9 582.0,971.0 583.0,971.2 584.0,971.4 585.0,971.6 586.0,971.7 587.0,971.9 588.0,972.0 589.0,972.2 590.0,972.3 591.0,972.4 592.0,972.5 593.0,972.7 594.0,972.8 595.0,972.9 596.0,972.9 597.0,973.0 598.0,973.1 599.0,973.1 600.0,973.2 601.0,973.2 602.0,973.3 603.0,973.3 604.0,973.3 605.0,973.3 606.0,973.3 607.0,973.3 608.0,973.2 609.0,973.2 610.0,973.2 611.0,973.1 612.0,973.0 613.0,973.0 614.0,972.9 615.0,972.8 616.0,972.7 617.0,972.5 618.0,972.4 619.0,972.3 620.0,972.1 621.0,971.9 622.0,971.7 623.0,971.6 624.0,971.4 625.0,971.1 626.0,970.9 627.0,970.7 628.0,970.4 629.0,970.2 630.0,969.9 631.0,969.6 632.0,969.3 633.0,969.0 634.0,968.7 635.0,968.4 636.0,968.0 637.0,967.7 638.0,967.3 639.0,967.0 640.0,966.6 641.0,966.2 642.0,965.8 643.0,965.4 644.0,964.9 645.0,964.5 646.0,964.1 647.0,963.6 648.0,963.2 649.0,962.7 650.0,962.2 651.0,961.7 652.0,961.2 653.0,960.7 654.0,960.1 655.0,959.6 656.0,959.1 657.0,958.5 658.0,957.9 659.0,957.4 660.0,956.8 661.0,956.2 662.0,955.6 663.0,954.9 664.0,954.3 665.0,953.7 666.0,953.0 667.0,952.4 668.0,951.7 669.0,951.0 670.0,950.4 671.0,949.7 672.0,949.0 673.0,948.2 674.0,947.5 675.0,946.8 676.0,946.0 677.0,945.3 678.0,944.5 679.0,943.8 680.0,943.0 681.0,942.2 682.0,941.4 683.0,940.6 684.0,939.8 685.0,939.0 686.0,938.1 687.0,937.3 688.0,936.4 689.0,935.6 690.0,934.7 691.0,933.9 692.0,933.0 693.0,932.1 694.0,931.2 695.0,930.3 696.0,929.4 697.0,928.5 698.0,927.5 699.0,926.6 700.0,925.7 701.0,924.7 702.0,923.8 703.0,922.8 704.0,921.9 705.0,920.9 706.0,919.9 707.0,918.9 708.0,918.0 709.0,917.0 710.0,916.0 711.0,915.0 712.0,914.0 713.0,913.0 714.0,912.0 715.0,910.9 716.0,909.9 717.0,908.9 718.0,907.9 719.0,906.8 720.0,905.8 721.0,904.7 722.0,903.7 723.0,902.6 724.0,901.6 725.0,900.5 726.0,899.5 727.0,898.4 728.0,897.4 729.0,896.3 730.0,895.2 731.0,894.1 732.0,893.1 733.0,892.0 734.0,890.9 735.0,889.8 736.0,888.8 737.0,887.7 738.0,886.6 739.0,885.5 740.0,884.4 741.0,883.3 742.0,882.3 743.0,881.2 744.0,880.1 745.0,879.0 746.0,877.9 747.0,876.8 748.0,875.7 749.0,874.7 750.0,873.6 751.0,872.5 752.0,871.4 753.0,870.3 754.0,869.2 755.0,868.2 756.0,867.1 757.0,866.0 758.0,864.9 759.0,863.8 760.0,862.8 761.0,861.7 762.0,860.6 763.0,859.5 764.0,858.5 765.0,857.4 766.0,856.3 767.0,855.2 768.0,854.1 769.0,853.1 770.0,852.0 771.0,850.9 772.0,849.8 773.0,848.8 774.0,847.7 775.0,846.6 776.0,845.5 777.0,844.4 778.0,843.4 779.0,842.3 780.0,841.2 781.0,840.1 782.0,839.0 783.0,837.9 784.0,836.8 785.0,835.8 786.0,834.7 787.0,833.6 788.0,832.5 789.0,831.4 790.0,830.3 791.0,829.2 792.0,828.1 793.0,827.0 794.0,825.9 795.0,824.8 796.0,823.7 797.0,822.6 798.0,821.4 799.0,820.3 800.0,819.2 801.0,818.1 802.0,817.0 803.0,815.8 804.0,814.7 805.0,813.6 806.0,812.4 807.0,811.3 808.0,810.2 809.0,809.0 810.0,807.9 811.0,806.7 812.0,805.6 813.0,804.4 814.0,803.3 815.0,802.1 816.0,800.9 817.0,799.7 818.0,798.6 819.0,797.4 820.0,796.2 821.0,795.0 822.0,793.8 823.0,792.7 824.0,791.5 825.0,790.3 826.0,789.1 827.0,787.9 828.0,786.7 829.0,785.5 830.0,784.2 831.0,783.0 832.0,781.8 833.0,780.6 834.0,779.4 835.0,778.2 836.0,776.9 837.0,775.7 838.0,774.5 839.0,773.3 840.0,772.1 841.0,770.8 842.0,769.6 843.0,768.4 844.0,767.1 845.0,765.9 846.0,764.7 847.0,763.4 848.0,762.2 849.0,761.0 850.0,759.7 851.0,758.5 852.0,757.3 853.0,756.1 854.0,754.8 855.0,753.6 856.0,752.4 857.0,751.1 858.0,749.9 859.0,748.7 860.0,747.4 861.0,746.2 862.0,745.0 863.0,743.8 864.0,742.5 865.0,741.3 866.0,740.1 867.0,738.9 868.0,737.7 869.0,736.4 870.0,735.2 871.0,734.0 872.0,732.8 873.0,731.6 874.0,730.4 875.0,729.2 876.0,728.0 877.0,726.9 878.0,725.7 879.0,724.5 880.0,723.4 881.0,722.2 882.0,721.0 883.0,719.9 884.0,718.8 885.0,717.6 886.0,716.5 887.0,715.4 888.0,714.3 889.0,713.2 890.0,712.1 891.0,711.0 892.0,709.9 893.0,708.8 894.0,707.8 895.0,706.7 896.0,705.7 897.0,704.6 898.0,703.6 899.0,702.6 900.0,701.6 901.0,700.6 902.0,699.7 903.0,698.7 904.0,697.8 905.0,696.9 906.0,696.0 907.0,695.1 908.0,694.2 909.0,693.4 910.0,692.5 911.0,691.7 912.0,690.9 913.0,690.1 914.0,689.4 915.0,688.6 916.0,687.9 917.0,687.2 918.0,686.6 919.0,685.9 920.0,685.3 921.0,684.7 922.0,684.1 923.0,683.5 924.0,683.0 925.0,682.5 926.0,682.0 927.0,681.5 928.0,681.0 929.0,680.6 930.0,680.2 931.0,679.8 932.0,679.4 933.0,679.0 934.0,678.6 935.0,678.3 936.0,677.9 937.0,677.6 938.0,677.3 939.0,677.0 940.0,676.8 941.0,676.5 942.0,676.3 943.0,676.0 944.0,675.8 945.0,675.6 946.0,675.4 947.0,675.2 948.0,675.0 949.0,674.8 950.0,674.7 951.0,674.5 952.0,674.3 953.0,674.2 954.0,674.1 955.0,673.9 956.0,673.8 957.0,673.7 958.0,673.6 959.0,673.5 960.0,673.4 961.0,673.3 962.0,673.2 963.0,673.1 964.0,673.0 965.0,672.9 966.0,672.8 967.0,672.7 968.0,672.7 969.0,672.6 970.0,672.5 971.0,672.5 972.0,672.4 973.0,672.3 974.0,672.3 975.0,672.2 976.0,672.2 977.0,672.1 978.0,672.0 979.0,672.0 980.0,671.9 981.0,671.9 982.0,671.8 983.0,671.8 984.0,671.8 985.0,671.7 986.0,671.7 987.0,671.6 988.0,671.6 989.0,671.5 990.0,671.5 991.0,671.4 992.0,671.4 993.0,671.3 994.0,671.3 995.0,671.3 996.0,671.2 997.0,671.2 998.0,671.1 999.0,671.1 1000.0,671.0 1001.0,671.0 1002.0,670.9 1003.0,670.9 1004.0,670.8 1005.0,670.8 1006.0,670.7 1007.0,670.7 1008.0,670.6 1009.0,670.6 1010.0,670.5 1011.0,670.5 1012.0,670.5 1013.0,670.4 1014.0,670.4 1015.0,670.4 1016.0,670.3 1017.0,670.3 1018.0,670.3 1019.0,670.3 1020.0,670.2 1021.0,670.2 1022.0,670.2 1023.0,670.2 1024.0,670.2 1025.0,670.2 1026.0,670.2 1027.0,670.2 1028.0,670.2 1029.0,670.3 1030.0,670.3 1031.0,670.3 1032.0,670.4 1033.0,670.4 1034.0,670.5 1035.0,670.5 1036.0,670.6 1037.0,670.6 1038.0,670.7 1039.0,670.8 1040.0,670.9 1041.0,671.0 1042.0,671.1 1043.0,671.2 1044.0,671.3 1045.0,671.5 1046.0,671.6 1047.0,671.7 1048.0,671.9 1049.0,672.1 1050.0,672.2 1051.0,672.4 1052.0,672.6 1053.0,672.8 1054.0,673.1 1055.0,673.3 1056.0,673.5 1057.0,673.8 1058.0,674.0 1059.0,674.3 1060.0,674.6 1061.0,674.9 1062.0,675.2 1063.0,675.5 1064.0,675.9 1065.0,676.2 1066.0,676.6 1067.0,676.9 1068.0,677.3 1069.0,677.7 1070.0,678.2 1071.0,678.6 1072.0,679.0 1073.0,679.5 1074.0,680.0 1075.0,680.5 1076.0,681.0 1077.0,681.5 1078.0,682.0 1079.0,682.6 1080.0,683.2 1081.0,683.8 1082.0,684.4 1083.0,685.0 1084.0,685.6 1085.0,686.3 1086.0,687.0 1087.0,687.7 1088.0,688.4 1089.0,689.1 1090.0,689.9 1091.0,690.7 1092.0,691.4 1093.0,692.3 1094.0,693.1 1095.0,693.9 1096.0,694.8 1097.0,695.7 1098.0,696.6 1099.0,697.5 1100.0,698.4 1101.0,699.4 1102.0,700.3 1103.0,701.3 1104.0,702.3 1105.0,703.3 1106.0,704.4 1107.0,705.4 1108.0,706.4 1109.0,707.5 1110.0,708.6 1111.0,709.7 1112.0,710.8 1113.0,711.9 1114.0,713.0 1115.0,714.1 1116.0,715.3 1117.0,716.4 1118.0,717.6 1119.0,718.7 1120.0,719.9 1121.0,721.1 1122.0,722.3 1123.0,723.5 1124.0,724.7 1125.0,725.9 1126.0,727.1 1127.0,728.3 1128.0,729.5 1129.0,730.7 1130.0,732.0 1131.0,733.2 1132.0,734.4 1133.0,735.7 1134.0,736.9 1135.0,738.2 1136.0,739.4 1137.0,740.7 1138.0,741.9 1139.0,743.2 1140.0,744.4 1141.0,745.7 1142.0,746.9 1143.0,748.1 1144.0,749.4 1145.0,750.6 1146.0,751.9 1147.0,753.1 1148.0,754.3 1149.0,755.6 1150.0,756.8 1151.0,758.0 1152.0,759.2 1153.0,760.4 1154.0,761.6 1155.0,762.8 1156.0,764.0 1157.0,765.2 1158.0,766.4 1159.0,767.5 1160.0,768.7 1161.0,769.8 1162.0,771.0 1163.0,772.1 1164.0,773.2 1165.0,774.4 1166.0,775.5 1167.0,776.6 1168.0,777.7 1169.0,778.8 1170.0,779.8 1171.0,780.9 1172.0,782.0 1173.0,783.1 1174.0,784.1 1175.0,785.2 1176.0,786.2 1177.0,787.3 1178.0,788.3 1179.0,789.4 1180.0,790.4 1181.0,791.4 1182.0,792.5 1183.0,793.5 1184.0,794.5 1185.0,795.5 1186.0,796.5 1187.0,797.6 1188.0,798.6 1189.0,799.6 1190.0,800.6 1191.0,801.6 1192.0,802.6 1193.0,803.6 1194.0,804.6 1195.0,805.6 1196.0,806.6 1197.0,807.6 1198.0,808.6 1199.0,809.6 1200.0,810.6 1201.0,811.6 1202.0,812.6 1203.0,813.6 1204.0,814.7 1205.0,815.7 1206.0,816.7 1207.0,817.7 1208.0,818.7 1209.0,819.7 1210.0,820.8 1211.0,821.8 1212.0,822.8 1213.0,823.9 1214.0,824.9 1215.0,825.9 1216.0,827.0 1217.0,828.0 1218.0,829.1 1219.0,830.2 1220.0,831.2 1221.0,832.3 1222.0,833.4 1223.0,834.5 1224.0,835.6 1225.0,836.7 1226.0,837.8 1227.0,838.9 1228.0,840.0 1229.0,841.1 1230.0,842.3 1231.0,843.4 1232.0,844.5 1233.0,845.7 1234.0,846.9 1235.0,848.0 1236.0,849.2 1237.0,850.4 1238.0,851.6 1239.0,852.8 1240.0,854.0 1241.0,855.2 1242.0,856.4 1243.0,857.6 1244.0,858.8 1245.0,860.0 1246.0,861.3 1247.0,862.5 1248.0,863.7 1249.0,865.0 1250.0,866.2 1251.0,867.5 1252.0,868.7 1253.0,870.0 1254.0,871.2 1255.0,872.5 1256.0,873.7 1257.0,875.0 1258.0,876.3 1259.0,877.5 1260.0,878.8 1261.0,880.1 1262.0,881.3 1263.0,882.6 1264.0,883.9 1265.0,885.1 1266.0,886.4 1267.0,887.7 1268.0,888.9 1269.0,890.2 1270.0,891.5 1271.0,892.8 1272.0,894.0 1273.0,895.3 1274.0,896.6 1275.0,897.8 1276.0,899.1 1277.0,900.4 1278.0,901.6 1279.0,902.9 1280.0,904.1 1281.0,905.4 1282.0,906.6 1283.0,907.9 1284.0,909.1 1285.0,910.4 1286.0,911.6 1287.0,912.9 1288.0,914.1 1289.0,915.3 1290.0,916.5 1291.0,917.8 1292.0,919.0 1293.0,920.2 1294.0,921.4 1295.0,922.6 1296.0,923.8 1297.0,924.9 1298.0,926.1 1299.0,927.3 1300.0,928.5 1301.0,929.6 1302.0,930.8 1303.0,931.9 1304.0,933.1 1305.0,934.2 1306.0,935.3 1307.0,936.4 1308.0,937.5 1309.0,938.6 1310.0,939.7 1311.0,940.8 1312.0,941.8 1313.0,942.9 1314.0,943.9 1315.0,944.9 1316.0,945.9 1317.0,946.9 1318.0,947.8 1319.0,948.8 1320.0,949.7 1321.0,950.6 1322.0,951.5 1323.0,952.3 1324.0,953.2 1325.0,954.0 1326.0,954.8 1327.0,955.6 1328.0,956.3 1329.0,957.0 1330.0,957.7 1331.0,958.4 1332.0,959.0 1333.0,959.6 1334.0,960.2 1335.0,960.7 1336.0,961.2 1337.0,961.7 1338.0,962.1 1339.0,962.6 1340.0,962.9 1341.0,963.3 1342.0,963.6 1343.0,963.9 1344.0,964.2 1345.0,964.5 1346.0,964.7 1347.0,965.0 1348.0,965.3 1349.0,965.6 1350.0,965.9 1351.0,966.2 1352.0,966.5 1353.0,966.9 1354.0,967.3 1355.0,967.7 1356.0,968.2 1357.0,968.7 1357.5,969.0" fill="none" stroke="#ff0000" stroke-width="5.8" stroke-linejoin="round"/>
<path d="M188.5,823.1 189.5,821.5 190.5,819.6 191.5,817.5 192.5,815.3 193.5,812.8 194.5,810.1 195.5,807.3 196.5,804.3 197.5,801.2 198.5,798.0 199.5,794.7 200.5,791.3 201.5,787.8 202.5,784.3 203.5,780.7 204.5,777.1 205.5,773.5 206.5,769.9 207.5,766.3 208.5,762.7 209.5,759.2 210.5,755.7 211.5,752.3 212.5,748.9 213.5,745.6 214.5,742.4 215.5,739.3 216.5,736.2 217.5,733.3 218.5,730.5 219.5,727.8 220.5,725.2 221.5,722.7 222.5,720.4 223.5,718.3 224.5,716.3 225.5,714.5 226.5,712.8 227.5,711.3 228.5,709.9 229.5,708.6 230.5,707.5 231.5,706.5 232.5,705.7 233.5,704.9 234.5,704.3 235.5,703.8 236.5,703.4 237.5,703.0 238.5,702.8 239.5,702.7 240.5,702.7 241.5,702.7 242.5,702.8 243.5,703.0 244.5,703.3 245.5,703.6 246.5,704.0 247.5,704.4 248.5,704.9 249.5,705.4 250.5,706.0 251.5,706.6 252.5,707.3 253.5,708.0 254.5,708.7 255.5,709.4 256.5,710.2 257.5,711.0 258.5,711.8 259.5,712.6 260.5,713.4 261.5,714.2 262.5,715.1 263.5,715.9 264.5,716.8 265.5,717.6 266.5,718.5 267.5,719.3 268.5,720.1 269.5,720.9 270.5,721.7 271.5,722.5 272.5,723.2 273.5,724.0 274.5,724.7 275.5,725.3 276.5,726.0 277.5,726.5 278.5,727.1 279.5,727.6 280.5,728.1 281.5,728.6 282.5,729.1 283.5,729.5 284.5,729.9 285.5,730.2 286.5,730.6 287.5,730.9 288.5,731.2 289.5,731.4 290.5,731.7 291.5,731.9 292.5,732.1 293.5,732.3 294.5,732.5 295.5,732.6 296.5,732.7 297.5,732.9 298.5,733.0 299.5,733.1 300.5,733.1 301.5,733.2 302.5,733.2 303.5,733.3 304.5,733.3 305.5,733.3 306.5,733.3 307.5,733.4 308.5,733.4 309.5,733.3 310.5,733.3 311.5,733.3 312.5,733.3 313.5,733.3 314.5,733.3 315.5,733.2 316.5,733.2 317.5,733.2 318.5,733.2 319.5,733.2 320.5,733.1 321.5,733.1 322.5,733.1 323.5,733.1 324.5,733.1 325.5,733.2 326.5,733.2 327.5,733.2 328.5,733.3 329.5,733.3 330.5,733.4 331.5,733.5 332.5,733.6 333.5,733.7 334.5,733.8 335.5,734.0 336.5,734.1 337.5,734.3 338.5,734.5 339.5,734.8 340.5,735.0 341.5,735.3 342.5,735.6 343.5,735.9 344.5,736.3 345.5,736.6 346.5,737.0 347.5,737.5 348.5,737.9 349.5,738.4 350.5,739.0 351.5,739.5 352.5,740.1 353.5,740.7 354.5,741.4 355.5,742.1 356.5,742.9 357.5,743.6 358.5,744.5 359.5,745.3 360.5,746.2 361.5,747.2 362.5,748.2 363.5,749.2 364.5,750.3 365.5,751.4 366.5,752.6 367.5,753.8 368.5,755.1 369.5,756.4 370.5,757.8 371.5,759.2 372.5,760.7 373.5,762.2 374.5,763.8 375.5,765.5 376.5,767.2 377.5,768.9 378.5,770.8 379.5,772.6 380.5,774.6 381.5,776.6 382.5,778.6 383.5,780.7 384.5,782.8 385.5,785.0 386.5,787.2 387.5,789.5 388.5,791.8 389.5,794.1 390.5,796.4 391.5,798.8 392.5,801.3 393.5,803.7 394.5,806.2 395.5,808.7 396.5,811.2 397.5,813.7 398.5,816.3 399.5,818.8 400.5,821.4 401.5,824.0 402.5,826.6 403.5,829.2 404.5,831.8 405.5,834.4 406.5,837.1 407.5,839.7 408.5,842.3 409.5,844.9 410.5,847.5 411.5,850.1 412.5,852.7 413.5,855.3 414.5,857.9 415.5,860.4 416.5,863.0 417.5,865.5 418.5,868.0 419.5,870.5 420.5,873.0 421.5,875.4 422.5,877.8 423.5,880.2 424.5,882.6 425.5,884.9 426.5,887.2 427.5,889.5 428.5,891.7 429.5,893.9 430.5,896.0 431.5,898.2 432.5,900.2 433.5,902.2 434.5,904.2 435.5,906.1 436.5,908.0 437.5,909.8 438.5,911.6 439.5,913.3 440.5,915.0 441.5,916.6 442.5,918.1 443.5,919.6 444.5,921.0 445.5,922.4 446.5,923.7 447.5,924.9 448.5,926.1 449.5,927.2 450.5,928.2 451.5,929.2 452.5,930.2 453.5,931.1 454.5,931.9 455.5,932.7 456.5,933.4 457.5,934.1 458.5,934.7 459.5,935.2 460.5,935.7 461.5,936.2 462.5,936.5 463.5,936.9 464.5,937.2 465.5,937.4 466.5,937.6 467.5,937.7 468.5,937.8 469.5,937.8 470.5,937.8 471.5,937.8 472.5,937.7 473.5,937.6 474.5,937.4 475.5,937.2 476.5,937.0 477.5,936.8 478.5,936.5 479.5,936.3 480.5,936.0 481.5,935.7 482.5,935.4 483.5,935.1 484.5,934.7 485.5,934.4 486.5,934.1 487.5,933.7 488.5,933.4 489.5,933.1 490.5,932.8 491.5,932.5 492.5,932.2 493.5,931.9 494.5,931.7 495.5,931.5 496.5,931.3 497.5,931.1 498.5,931.0 499.5,930.9 500.5,930.8 501.5,930.7 502.5,930.7 503.5,930.7 504.5,930.7 505.5,930.8 506.5,930.9 507.5,931.0 508.5,931.1 509.5,931.3 510.5,931.5 511.5,931.7 512.5,932.0 513.5,932.2 514.5,932.5 515.5,932.9 516.5,933.2 517.5,933.6 518.5,934.0 519.5,934.5 520.5,934.9 521.5,935.4 522.5,935.9 523.5,936.5 524.5,937.0 525.5,937.6 526.5,938.2 527.5,938.9 528.5,939.6 529.5,940.2 530.5,941.0 531.5,941.7 532.5,942.5 533.5,943.3 534.5,944.1 535.5,944.9 536.5,945.8 537.5,946.6 538.5,947.6 539.5,948.5 540.5,949.4 541.5,950.4 542.5,951.4 543.5,952.4 544.5,953.5 545.5,954.6 546.5,955.6 547.5,956.7 548.5,957.9 549.5,959.0 550.5,960.1 551.5,961.3 552.5,962.4 553.5,963.6 554.5,964.7 555.5,965.9 556.5,967.0 557.5,968.1 558.5,969.2 559.5,970.3 560.5,971.4 561.5,972.5 562.5,973.6 563.5,974.6 564.5,975.6 565.5,976.6 566.5,977.5 567.5,978.4 568.5,979.3 569.5,980.1 570.5,980.9 571.5,981.7 572.5,982.4 573.5,983.1 574.5,983.8 575.5,984.4 576.5,985.0 577.5,985.6 578.5,986.1 579.5,986.5 580.5,987.0 581.5,987.4 582.5,987.7 583.5,988.1 584.5,988.3 585.5,988.6 586.5,988.7 587.5,988.9 588.5,989.0 589.5,989.0 590.5,989.1 591.5,989.0 592.5,989.0 593.5,988.8 594.5,988.7 595.5,988.4 596.5,988.2 597.5,987.9 598.5,987.5 599.5,987.1 600.5,986.7 601.5,986.2 602.5,985.7 603.5,985.1 604.5,984.5 605.5,983.9 606.5,983.2 607.5,982.5 608.5,981.8 609.5,981.0 610.5,980.2 611.5,979.4 612.5,978.5 613.5,977.7 614.5,976.8 615.5,975.8 616.5,974.9 617.5,973.9 618.5,972.9 619.5,971.9 620.5,970.9 621.5,969.8 622.5,968.8 623.5,967.7 624.5,966.6 625.5,965.5 626.5,964.4 627.5,963.2 628.5,962.1 629.5,961.0 630.5,959.8 631.5,958.7 632.5,957.5 633.5,956.4 634.5,955.2 635.5,954.0 636.5,952.9 637.5,951.7 638.5,950.6 639.5,949.4 640.5,948.3 641.5,947.2 642.5,946.1 643.5,945.0 644.5,943.9 645.5,942.8 646.5,941.8 647.5,940.8 648.5,939.8 649.5,938.8 650.5,937.9 651.5,937.0 652.5,936.1 653.5,935.2 654.5,934.4 655.5,933.7 656.5,933.0 657.5,932.3 658.5,931.6 659.5,931.0 660.5,930.5 661.5,930.0 662.5,929.5 663.5,929.1 664.5,928.8 665.5,928.5 666.5,928.2 667.5,927.9 668.5,927.7 669.5,927.6 670.5,927.4 671.5,927.3 672.5,927.3 673.5,927.2 674.5,927.2 675.5,927.3 676.5,927.3 677.5,927.4 678.5,927.5 679.5,927.7 680.5,927.8 681.5,928.0 682.5,928.2 683.5,928.4 684.5,928.7 685.5,928.9 686.5,929.2 687.5,929.5 688.5,929.8 689.5,930.1 690.5,930.5 691.5,930.8 692.5,931.2 693.5,931.5 694.5,931.9 695.5,932.3 696.5,932.6 697.5,933.0 698.5,933.4 699.5,933.7 700.5,934.1 701.5,934.5 702.5,934.8 703.5,935.1 704.5,935.5 705.5,935.8 706.5,936.1 707.5,936.4 708.5,936.6 709.5,936.9 710.5,937.1 711.5,937.3 712.5,937.5 713.5,937.6 714.5,937.8 715.5,937.8 716.5,937.9 717.5,937.9 718.5,937.9 719.5,937.9 720.5,937.8 721.5,937.7 722.5,937.5 723.5,937.3 724.5,937.1 725.5,936.8 726.5,936.4 727.5,936.0 728.5,935.6 729.5,935.1 730.5,934.6 731.5,933.9 732.5,933.3 733.5,932.6 734.5,931.8 735.5,930.9 736.5,930.0 737.5,929.0 738.5,928.0 739.5,926.9 740.5,925.7 741.5,924.4 742.5,923.1 743.5,921.7 744.5,920.2 745.5,918.7 746.5,917.1 747.5,915.5 748.5,913.8 749.5,912.0 750.5,910.2 751.5,908.3 752.5,906.4 753.5,904.4 754.5,902.4 755.5,900.3 756.5,898.1 757.5,895.9 758.5,893.7 759.5,891.4 760.5,889.0 761.5,886.7 762.5,884.2 763.5,881.8 764.5,879.2 765.5,876.7 766.5,874.1 767.5,871.5 768.5,868.8 769.5,866.1 770.5,863.4 771.5,860.6 772.5,857.9 773.5,855.1 774.5,852.3 775.5,849.4 776.5,846.6 777.5,843.7 778.5,840.9 779.5,838.0 780.5,835.2 781.5,832.3 782.5,829.5 783.5,826.6 784.5,823.8 785.5,821.0 786.5,818.2 787.5,815.4 788.5,812.6 789.5,809.9 790.5,807.2 791.5,804.5 792.5,801.8 793.5,799.2 794.5,796.7 795.5,794.1 796.5,791.6 797.5,789.1 798.5,786.7 799.5,784.4 800.5,782.0 801.5,779.8 802.5,777.6 803.5,775.4 804.5,773.3 805.5,771.3 806.5,769.3 807.5,767.4 808.5,765.6 809.5,763.8 810.5,762.1 811.5,760.5 812.5,758.9 813.5,757.4 814.5,755.9 815.5,754.6 816.5,753.3 817.5,752.0 818.5,750.8 819.5,749.7 820.5,748.6 821.5,747.6 822.5,746.7 823.5,745.8 824.5,744.9 825.5,744.2 826.5,743.5 827.5,742.8 828.5,742.2 829.5,741.7 830.5,741.2 831.5,740.7 832.5,740.3 833.5,740.0 834.5,739.7 835.5,739.5 836.5,739.4 837.5,739.2 838.5,739.2 839.5,739.2 840.5,739.2 841.5,739.3 842.5,739.4 843.5,739.6 844.5,739.8 845.5,740.1 846.5,740.4 847.5,740.8 848.5,741.2 849.5,741.6 850.5,742.1 851.5,742.6 852.5,743.2 853.5,743.7 854.5,744.3 855.5,745.0 856.5,745.6 857.5,746.3 858.5,746.9 859.5,747.6 860.5,748.3 861.5,749.0 862.5,749.7 863.5,750.3 864.5,751.0 865.5,751.7 866.5,752.3 867.5,753.0 868.5,753.6 869.5,754.2 870.5,754.8 871.5,755.3 872.5,755.8 873.5,756.3 874.5,756.7 875.5,757.1 876.5,757.5 877.5,757.8 878.5,758.1 879.5,758.3 880.5,758.5 881.5,758.6 882.5,758.7 883.5,758.7 884.5,758.7 885.5,758.7 886.5,758.5 887.5,758.4 888.5,758.2 889.5,757.9 890.5,757.6 891.5,757.2 892.5,756.8 893.5,756.3 894.5,755.8 895.5,755.2 896.5,754.5 897.5,753.8 898.5,753.1 899.5,752.3 900.5,751.4 901.5,750.4 902.5,749.4 903.5,748.4 904.5,747.2 905.5,746.1 906.5,744.8 907.5,743.5 908.5,742.2 909.5,740.8 910.5,739.3 911.5,737.8 912.5,736.2 913.5,734.6 914.5,733.0 915.5,731.3 916.5,729.6 917.5,727.8 918.5,726.0 919.5,724.1 920.5,722.3 921.5,720.4 922.5,718.4 923.5,716.5 924.5,714.5 925.5,712.5 926.5,710.5 927.5,708.4 928.5,706.4 929.5,704.3 930.5,702.2 931.5,700.1 932.5,698.0 933.5,695.9 934.5,693.8 935.5,691.7 936.5,689.5 937.5,687.4 938.5,685.3 939.5,683.2 940.5,681.1 941.5,679.0 942.5,676.9 943.5,674.9 944.5,672.9 945.5,670.9 946.5,668.9 947.5,666.9 948.5,665.0 949.5,663.1 950.5,661.2 951.5,659.4 952.5,657.6 953.5,655.9 954.5,654.2 955.5,652.5 956.5,650.9 957.5,649.3 958.5,647.8 959.5,646.4 960.5,645.0 961.5,643.7 962.5,642.4 963.5,641.2 964.5,640.1 965.5,639.0 966.5,638.0 967.5,637.0 968.5,636.1 969.5,635.3 970.5,634.5 971.5,633.8 972.5,633.2 973.5,632.6 974.5,632.1 975.5,631.6 976.5,631.2 977.5,630.9 978.5,630.6 979.5,630.4 980.5,630.2 981.5,630.1 982.5,630.0 983.5,630.0 984.5,630.1 985.5,630.2 986.5,630.4 987.5,630.6 988.5,630.9 989.5,631.3 990.5,631.6 991.5,632.1 992.5,632.6 993.5,633.2 994.5,633.8 995.5,634.5 996.5,635.2 997.5,636.0 998.5,636.8 999.5,637.7 1000.5,638.6 1001.5,639.6 1002.5,640.6 1003.5,641.7 1004.5,642.8 1005.5,644.0 1006.5,645.3 1007.5,646.5 1008.5,647.9 1009.5,649.2 1010.5,650.6 1011.5,652.1 1012.5,653.5 1013.5,655.0 1014.5,656.5 1015.5,658.1 1016.5,659.6 1017.5,661.2 1018.5,662.8 1019.5,664.4 1020.5,666.0 1021.5,667.6 1022.5,669.2 1023.5,670.8 1024.5,672.4 1025.5,674.0 1026.5,675.6 1027.5,677.2 1028.5,678.8 1029.5,680.3 1030.5,681.8 1031.5,683.3 1032.5,684.8 1033.5,686.2 1034.5,687.6 1035.5,689.0 1036.5,690.3 1037.5,691.6 1038.5,692.9 1039.5,694.1 1040.5,695.2 1041.5,696.4 1042.5,697.5 1043.5,698.5 1044.5,699.5 1045.5,700.5 1046.5,701.4 1047.5,702.3 1048.5,703.2 1049.5,704.0 1050.5,704.8 1051.5,705.5 1052.5,706.2 1053.5,706.9 1054.5,707.5 1055.5,708.1 1056.5,708.6 1057.5,709.1 1058.5,709.6 1059.5,710.0 1060.5,710.4 1061.5,710.8 1062.5,711.1 1063.5,711.4 1064.5,711.6 1065.5,711.8 1066.5,712.0 1067.5,712.1 1068.5,712.2 1069.5,712.2 1070.5,712.2 1071.5,712.2 1072.5,712.1 1073.5,712.0 1074.5,711.9 1075.5,711.7 1076.5,711.5 1077.5,711.2 1078.5,710.9 1079.5,710.6 1080.5,710.2 1081.5,709.8 1082.5,709.4 1083.5,708.9 1084.5,708.5 1085.5,708.0 1086.5,707.4 1087.5,706.9 1088.5,706.3 1089.5,705.8 1090.5,705.2 1091.5,704.6 1092.5,704.0 1093.5,703.4 1094.5,702.9 1095.5,702.3 1096.5,701.7 1097.5,701.2 1098.5,700.6 1099.5,700.1 1100.5,699.6 1101.5,699.2 1102.5,698.7 1103.5,698.3 1104.5,697.9 1105.5,697.6 1106.5,697.3 1107.5,697.1 1108.5,696.8 1109.5,696.7 1110.5,696.6 1111.5,696.5 1112.5,696.5 1113.5,696.5 1114.5,696.6 1115.5,696.8 1116.5,696.9 1117.5,697.2 1118.5,697.5 1119.5,697.8 1120.5,698.2 1121.5,698.6 1122.5,699.1 1123.5,699.6 1124.5,700.2 1125.5,700.9 1126.5,701.6 1127.5,702.3 1128.5,703.1 1129.5,703.9 1130.5,704.8 1131.5,705.8 1132.5,706.8 1133.5,707.8 1134.5,708.9 1135.5,710.0 1136.5,711.2 1137.5,712.5 1138.5,713.8 1139.5,715.1 1140.5,716.5 1141.5,717.9 1142.5,719.4 1143.5,720.9 1144.5,722.5 1145.5,724.1 1146.5,725.8 1147.5,727.5 1148.5,729.2 1149.5,731.0 1150.5,732.8 1151.5,734.6 1152.5,736.5 1153.5,738.4 1154.5,740.3 1155.5,742.3 1156.5,744.3 1157.5,746.3 1158.5,748.3 1159.5,750.4 1160.5,752.5 1161.5,754.6 1162.5,756.8 1163.5,758.9 1164.5,761.1 1165.5,763.3 1166.5,765.5 1167.5,767.8 1168.5,770.0 1169.5,772.2 1170.5,774.5 1171.5,776.7 1172.5,779.0 1173.5,781.2 1174.5,783.5 1175.5,785.7 1176.5,788.0 1177.5,790.2 1178.5,792.4 1179.5,794.6 1180.5,796.8 1181.5,798.9 1182.5,801.0 1183.5,803.1 1184.5,805.2 1185.5,807.2 1186.5,809.3 1187.5,811.2 1188.5,813.2 1189.5,815.1 1190.5,816.9 1191.5,818.8 1192.5,820.6 1193.5,822.3 1194.5,824.1 1195.5,825.8 1196.5,827.4 1197.5,829.0 1198.5,830.6 1199.5,832.1 1200.5,833.6 1201.5,835.1 1202.5,836.5 1203.5,837.9 1204.5,839.2 1205.5,840.5 1206.5,841.7 1207.5,843.0 1208.5,844.1 1209.5,845.2 1210.5,846.3 1211.5,847.4 1212.5,848.4 1213.5,849.3 1214.5,850.2 1215.5,851.1 1216.5,851.9 1217.5,852.6 1218.5,853.4 1219.5,854.0 1220.5,854.7 1221.5,855.3 1222.5,855.8 1223.5,856.3 1224.5,856.8 1225.5,857.3 1226.5,857.7 1227.5,858.1 1228.5,858.4 1229.5,858.7 1230.5,859.0 1231.5,859.3 1232.5,859.6 1233.5,859.8 1234.5,860.0 1235.5,860.2 1236.5,860.4 1237.5,860.6 1238.5,860.7 1239.5,860.9 1240.5,861.0 1241.5,861.1 1242.5,861.3 1243.5,861.4 1244.5,861.5 1245.5,861.6 1246.5,861.7 1247.5,861.8 1248.5,861.9 1249.5,862.1 1250.5,862.2 1251.5,862.3 1252.5,862.5 1253.5,862.6 1254.5,862.8 1255.5,863.0 1256.5,863.2 1257.5,863.4 1258.5,863.7 1259.5,863.9 1260.5,864.2 1261.5,864.5 1262.5,864.9 1263.5,865.3 1264.5,865.6 1265.5,866.1 1266.5,866.5 1267.5,867.0 1268.5,867.6 1269.5,868.1 1270.5,868.7 1271.5,869.4 1272.5,870.1 1273.5,870.8 1274.5,871.6 1275.5,872.4 1276.5,873.3 1277.5,874.2 1278.5,875.2 1279.5,876.2 1280.5,877.3 1281.5,878.4 1282.5,879.6 1283.5,880.8 1284.5,882.1 1285.5,883.4 1286.5,884.8 1287.5,886.2 1288.5,887.6 1289.5,889.1 1290.5,890.6 1291.5,892.2 1292.5,893.8 1293.5,895.5 1294.5,897.2 1295.5,898.9 1296.5,900.7 1297.5,902.5 1298.5,904.3 1299.5,906.2 1300.5,908.1 1301.5,910.1 1302.5,912.1 1303.5,914.1 1304.5,916.2 1305.5,918.3 1306.5,920.4 1307.5,922.6 1308.5,924.7 1309.5,927.0 1310.5,929.2 1311.5,931.4 1312.5,933.7 1313.5,936.0 1314.5,938.3 1315.5,940.6 1316.5,942.9 1317.5,945.1 1318.5,947.4 1319.5,949.7 1320.5,952.0 1321.5,954.2 1322.5,956.5 1323.5,958.7 1324.5,960.9 1325.5,963.0 1326.5,965.2 1327.5,967.3 1328.5,969.3 1329.5,971.4 1330.5,973.4 1331.5,975.3 1332.5,977.2 1333.5,979.0 1334.5,980.9 1335.5,982.6 1336.5,984.3 1337.5,986.0 1338.5,987.6 1339.5,989.1 1340.5,990.6 1341.5,992.0 1342.5,993.4 1343.5,994.7 1344.5,995.9 1345.5,997.1 1346.5,998.2 1347.5,999.2 1348.5,1000.2 1349.5,1001.1 1350.5,1001.9 1351.5,1002.6 1352.5,1003.2 1353.5,1003.8 1354.5,1004.3 1355.5,1004.7 1356.5,1005.0 1357.5,1005.3" fill="none" stroke="#0000ff" stroke-width="6" stroke-dasharray="6 4.8"/>
<path d="M188.5,669.5 189.5,669.5 190.5,669.5 191.5,669.5 192.5,669.6 193.5,669.6 194.5,669.7 195.5,669.8 196.5,669.8 197.5,669.9 198.5,670.0 199.5,670.1 200.5,670.2 201.5,670.3 202.5,670.5 203.5,670.6 204.5,670.7 205.5,670.9 206.5,671.0 207.5,671.2 208.5,671.4 209.5,671.6 210.5,671.7 211.5,671.9 212.5,672.1 213.5,672.4 214.5,672.6 215.5,672.8 216.5,673.1 217.5,673.3 218.5,673.6 219.5,673.8 220.5,674.1 221.5,674.4 222.5,674.7 223.5,674.9 224.5,675.3 225.5,675.6 226.5,675.9 227.5,676.2 228.5,676.5 229.5,676.9 230.5,677.2 231.5,677.6 232.5,678.0 233.5,678.3 234.5,678.7 235.5,679.1 236.5,679.5 237.5,679.9 238.5,680.3 239.5,680.8 240.5,681.2 241.5,681.6 242.5,682.1 243.5,682.5 244.5,683.0 245.5,683.5 246.5,683.9 247.5,684.4 248.5,684.9 249.5,685.4 250.5,685.9 251.5,686.4 252.5,687.0 253.5,687.5 254.5,688.0 255.5,688.6 256.5,689.1 257.5,689.7 258.5,690.3 259.5,690.8 260.5,691.4 261.5,692.0 262.5,692.6 263.5,693.2 264.5,693.8 265.5,694.5 266.5,695.1 267.5,695.7 268.5,696.4 269.5,697.0 270.5,697.7 271.5,698.3 272.5,699.0 273.5,699.7 274.5,700.4 275.5,701.1 276.5,701.8 277.5,702.5 278.5,703.2 279.5,704.0 280.5,704.7 281.5,705.4 282.5,706.2 283.5,706.9 284.5,707.7 285.5,708.5 286.5,709.3 287.5,710.0 288.5,710.8 289.5,711.6 290.5,712.5 291.5,713.3 292.5,714.1 293.5,714.9 294.5,715.8 295.5,716.6 296.5,717.5 297.5,718.3 298.5,719.2 299.5,720.1 300.5,720.9 301.5,721.8 302.5,722.7 303.5,723.6 304.5,724.5 305.5,725.4 306.5,726.4 307.5,727.3 308.5,728.2 309.5,729.2 310.5,730.1 311.5,731.1 312.5,732.1 313.5,733.0 314.5,734.0 315.5,735.0 316.5,736.0 317.5,737.0 318.5,738.0 319.5,739.0 320.5,740.1 321.5,741.1 322.5,742.1 323.5,743.2 324.5,744.2 325.5,745.3 326.5,746.3 327.5,747.4 328.5,748.5 329.5,749.6 330.5,750.7 331.5,751.8 332.5,752.9 333.5,754.0 334.5,755.1 335.5,756.2 336.5,757.4 337.5,758.5 338.5,759.6 339.5,760.8 340.5,761.9 341.5,763.1 342.5,764.3 343.5,765.5 344.5,766.6 345.5,767.8 346.5,769.0 347.5,770.2 348.5,771.4 349.5,772.6 350.5,773.8 351.5,775.0 352.5,776.2 353.5,777.5 354.5,778.7 355.5,779.9 356.5,781.2 357.5,782.4 358.5,783.6 359.5,784.9 360.5,786.1 361.5,787.4 362.5,788.6 363.5,789.9 364.5,791.2 365.5,792.4 366.5,793.7 367.5,795.0 368.5,796.2 369.5,797.5 370.5,798.8 371.5,800.1 372.5,801.3 373.5,802.6 374.5,803.9 375.5,805.2 376.5,806.5 377.5,807.8 378.5,809.1 379.5,810.3 380.5,811.6 381.5,812.9 382.5,814.2 383.5,815.5 384.5,816.8 385.5,818.1 386.5,819.4 387.5,820.7 388.5,822.0 389.5,823.3 390.5,824.6 391.5,825.8 392.5,827.1 393.5,828.4 394.5,829.7 395.5,831.0 396.5,832.3 397.5,833.6 398.5,834.8 399.5,836.1 400.5,837.4 401.5,838.7 402.5,840.0 403.5,841.2 404.5,842.5 405.5,843.8 406.5,845.0 407.5,846.3 408.5,847.6 409.5,848.8 410.5,850.1 411.5,851.3 412.5,852.6 413.5,853.8 414.5,855.1 415.5,856.3 416.5,857.5 417.5,858.8 418.5,860.0 419.5,861.2 420.5,862.4 421.5,863.7 422.5,864.9 423.5,866.1 424.5,867.3 425.5,868.5 426.5,869.7 427.5,870.9 428.5,872.1 429.5,873.3 430.5,874.5 431.5,875.6 432.5,876.8 433.5,878.0 434.5,879.1 435.5,880.3 436.5,881.4 437.5,882.6 438.5,883.7 439.5,884.9 440.5,886.0 441.5,887.1 442.5,888.3 443.5,889.4 444.5,890.5 445.5,891.6 446.5,892.7 447.5,893.8 448.5,894.9 449.5,895.9 450.5,897.0 451.5,898.1 452.5,899.1 453.5,900.2 454.5,901.2 455.5,902.3 456.5,903.3 457.5,904.3 458.5,905.4 459.5,906.4 460.5,907.4 461.5,908.4 462.5,909.4 463.5,910.4 464.5,911.3 465.5,912.3 466.5,913.3 467.5,914.2 468.5,915.2 469.5,916.1 470.5,917.1 471.5,918.0 472.5,918.9 473.5,919.8 474.5,920.7 475.5,921.6 476.5,922.5 477.5,923.4 478.5,924.3 479.5,925.2 480.5,926.0 481.5,926.9 482.5,927.8 483.5,928.6 484.5,929.4 485.5,930.3 486.5,931.1 487.5,931.9 488.5,932.7 489.5,933.5 490.5,934.3 491.5,935.1 492.5,935.9 493.5,936.6 494.5,937.4 495.5,938.2 496.5,938.9 497.5,939.7 498.5,940.4 499.5,941.1 500.5,941.8 501.5,942.6 502.5,943.3 503.5,944.0 504.5,944.6 505.5,945.3 506.5,946.0 507.5,946.7 508.5,947.3 509.5,948.0 510.5,948.6 511.5,949.3 512.5,949.9 513.5,950.5 514.5,951.2 515.5,951.8 516.5,952.4 517.5,953.0 518.5,953.6 519.5,954.1 520.5,954.7 521.5,955.3 522.5,955.8 523.5,956.4 524.5,956.9 525.5,957.5 526.5,958.0 527.5,958.5 528.5,959.0 529.5,959.5 530.5,960.0 531.5,960.5 532.5,961.0 533.5,961.5 534.5,961.9 535.5,962.4 536.5,962.9 537.5,963.3 538.5,963.7 539.5,964.2 540.5,964.6 541.5,965.0 542.5,965.4 543.5,965.8 544.5,966.2 545.5,966.6 546.5,966.9 547.5,967.3 548.5,967.7 549.5,968.0 550.5,968.4 551.5,968.7 552.5,969.0 553.5,969.4 554.5,969.7 555.5,970.0 556.5,970.3 557.5,970.6 558.5,970.8 559.5,971.1 560.5,971.4 561.5,971.6 562.5,971.9 563.5,972.1 564.5,972.4 565.5,972.6 566.5,972.8 567.5,973.0 568.5,973.2 569.5,973.4 570.5,973.6 571.5,973.8 572.5,974.0 573.5,974.1 574.5,974.3 575.5,974.4 576.5,974.6 577.5,974.7 578.5,974.8 579.5,975.0 580.5,975.1 581.5,975.2 582.5,975.3 583.5,975.3 584.5,975.4 585.5,975.5 586.5,975.5 587.5,975.6 588.5,975.6 589.5,975.7 590.5,975.7 591.5,975.7 592.5,975.7 593.5,975.7 594.5,975.7 595.5,975.7 596.5,975.7 597.5,975.7 598.5,975.6 599.5,975.6 600.5,975.5 601.5,975.5 602.5,975.4 603.5,975.3 604.5,975.2 605.5,975.1 606.5,975.0 607.5,974.9 608.5,974.8 609.5,974.7 610.5,974.5 611.5,974.4 612.5,974.3 613.5,974.1 614.5,973.9 615.5,973.7 616.5,973.6 617.5,973.4 618.5,973.2 619.5,973.0 620.5,972.7 621.5,972.5 622.5,972.3 623.5,972.0 624.5,971.8 625.5,971.5 626.5,971.2 627.5,971.0 628.5,970.7 629.5,970.4 630.5,970.1 631.5,969.8 632.5,969.5 633.5,969.1 634.5,968.8 635.5,968.4 636.5,968.1 637.5,967.7 638.5,967.4 639.5,967.0 640.5,966.6 641.5,966.2 642.5,965.8 643.5,965.4 644.5,965.0 645.5,964.6 646.5,964.1 647.5,963.7 648.5,963.2 649.5,962.8 650.5,962.3 651.5,961.8 652.5,961.3 653.5,960.8 654.5,960.3 655.5,959.8 656.5,959.3 657.5,958.8 658.5,958.3 659.5,957.7 660.5,957.2 661.5,956.6 662.5,956.1 663.5,955.5 664.5,954.9 665.5,954.3 666.5,953.7 667.5,953.1 668.5,952.5 669.5,951.9 670.5,951.3 671.5,950.7 672.5,950.0 673.5,949.4 674.5,948.7 675.5,948.1 676.5,947.4 677.5,946.7 678.5,946.0 679.5,945.3 680.5,944.7 681.5,943.9 682.5,943.2 683.5,942.5 684.5,941.8 685.5,941.0 686.5,940.3 687.5,939.6 688.5,938.8 689.5,938.0 690.5,937.3 691.5,936.5 692.5,935.7 693.5,934.9 694.5,934.2 695.5,933.4 696.5,932.6 697.5,931.9 698.5,931.1 699.5,930.3 700.5,929.6 701.5,928.8 702.5,928.1 703.5,927.3 704.5,926.6 705.5,925.9 706.5,925.2 707.5,924.5 708.5,923.7 709.5,923.0 710.5,922.3 711.5,921.6 712.5,920.8 713.5,920.0 714.5,919.3 715.5,918.5 716.5,917.6 717.5,916.8 718.5,915.9 719.5,914.9 720.5,914.0 721.5,912.9 722.5,911.9 723.5,910.8 724.5,909.7 725.5,908.5 726.5,907.3 727.5,906.1 728.5,904.9 729.5,903.7 730.5,902.5 731.5,901.3 732.5,900.1 733.5,899.0 734.5,897.9 735.5,896.8 736.5,895.7 737.5,894.7 738.5,893.7 739.5,892.7 740.5,891.8 741.5,890.8 742.5,889.9 743.5,889.0 744.5,888.0 745.5,887.1 746.5,886.2 747.5,885.2 748.5,884.2 749.5,883.3 750.5,882.3 751.5,881.2 752.5,880.2 753.5,879.1 754.5,878.0 755.5,876.9 756.5,875.7 757.5,874.5 758.5,873.4 759.5,872.1 760.5,870.9 761.5,869.7 762.5,868.4 763.5,867.1 764.5,865.8 765.5,864.5 766.5,863.2 767.5,861.9 768.5,860.5 769.5,859.2 770.5,857.8 771.5,856.5 772.5,855.1 773.5,853.8 774.5,852.4 775.5,851.1 776.5,849.7 777.5,848.3 778.5,847.0 779.5,845.6 780.5,844.3 781.5,843.0 782.5,841.6 783.5,840.3 784.5,839.0 785.5,837.7 786.5,836.3 787.5,835.0 788.5,833.7 789.5,832.4 790.5,831.1 791.5,829.8 792.5,828.5 793.5,827.2 794.5,825.9 795.5,824.6 796.5,823.4 797.5,822.1 798.5,820.8 799.5,819.5 800.5,818.3 801.5,817.0 802.5,815.7 803.5,814.5 804.5,813.2 805.5,812.0 806.5,810.7 807.5,809.4 808.5,808.2 809.5,806.9 810.5,805.7 811.5,804.5 812.5,803.2 813.5,802.0 814.5,800.7 815.5,799.5 816.5,798.2 817.5,797.0 818.5,795.8 819.5,794.5 820.5,793.3 821.5,792.1 822.5,790.9 823.5,789.6 824.5,788.4 825.5,787.2 826.5,786.0 827.5,784.7 828.5,783.5 829.5,782.3 830.5,781.1 831.5,779.9 832.5,778.7 833.5,777.5 834.5,776.3 835.5,775.1 836.5,773.9 837.5,772.7 838.5,771.6 839.5,770.4 840.5,769.2 841.5,768.0 842.5,766.9 843.5,765.7 844.5,764.6 845.5,763.4 846.5,762.3 847.5,761.1 848.5,760.0 849.5,758.9 850.5,757.8 851.5,756.6 852.5,755.5 853.5,754.4 854.5,753.3 855.5,752.2 856.5,751.1 857.5,750.1 858.5,749.0 859.5,747.9 860.5,746.8 861.5,745.8 862.5,744.7 863.5,743.7 864.5,742.6 865.5,741.6 866.5,740.6 867.5,739.5 868.5,738.5 869.5,737.5 870.5,736.5 871.5,735.5 872.5,734.5 873.5,733.5 874.5,732.5 875.5,731.5 876.5,730.6 877.5,729.6 878.5,728.7 879.5,727.7 880.5,726.8 881.5,725.8 882.5,724.9 883.5,724.0 884.5,723.0 885.5,722.1 886.5,721.2 887.5,720.3 888.5,719.4 889.5,718.6 890.5,717.7 891.5,716.8 892.5,716.0 893.5,715.1 894.5,714.3 895.5,713.4 896.5,712.6 897.5,711.8 898.5,710.9 899.5,710.1 900.5,709.3 901.5,708.5 902.5,707.7 903.5,706.9 904.5,706.2 905.5,705.4 906.5,704.6 907.5,703.9 908.5,703.2 909.5,702.4 910.5,701.7 911.5,701.0 912.5,700.3 913.5,699.6 914.5,698.9 915.5,698.2 916.5,697.5 917.5,696.8 918.5,696.1 919.5,695.5 920.5,694.8 921.5,694.2 922.5,693.6 923.5,692.9 924.5,692.3 925.5,691.7 926.5,691.1 927.5,690.5 928.5,689.9 929.5,689.3 930.5,688.7 931.5,688.2 932.5,687.6 933.5,687.1 934.5,686.5 935.5,686.0 936.5,685.5 937.5,685.0 938.5,684.4 939.5,683.9 940.5,683.4 941.5,683.0 942.5,682.5 943.5,682.0 944.5,681.5 945.5,681.1 946.5,680.6 947.5,680.2 948.5,679.8 949.5,679.3 950.5,678.9 951.5,678.5 952.5,678.1 953.5,677.7 954.5,677.3 955.5,676.9 956.5,676.6 957.5,676.2 958.5,675.8 959.5,675.5 960.5,675.2 961.5,674.8 962.5,674.5 963.5,674.2 964.5,673.9 965.5,673.6 966.5,673.3 967.5,673.0 968.5,672.7 969.5,672.4 970.5,672.2 971.5,671.9 972.5,671.7 973.5,671.4 974.5,671.2 975.5,671.0 976.5,670.8 977.5,670.6 978.5,670.4 979.5,670.2 980.5,670.0 981.5,669.8 982.5,669.7 983.5,669.5 984.5,669.3 985.5,669.2 986.5,669.1 987.5,668.9 988.5,668.8 989.5,668.7 990.5,668.6 991.5,668.5 992.5,668.4 993.5,668.3 994.5,668.3 995.5,668.2 996.5,668.1 997.5,668.1 998.5,668.0 999.5,668.0 1000.5,668.0 1001.5,668.0 1002.5,668.0 1003.5,668.0 1004.5,668.0 1005.5,668.0 1006.5,668.0 1007.5,668.0 1008.5,668.1 1009.5,668.1 1010.5,668.2 1011.5,668.2 1012.5,668.3 1013.5,668.4 1014.5,668.5 1015.5,668.5 1016.5,668.6 1017.5,668.8 1018.5,668.9 1019.5,669.0 1020.5,669.1 1021.5,669.3 1022.5,669.4 1023.5,669.6 1024.5,669.7 1025.5,669.9 1026.5,670.1 1027.5,670.3 1028.5,670.5 1029.5,670.7 1030.5,670.9 1031.5,671.1 1032.5,671.3 1033.5,671.6 1034.5,671.8 1035.5,672.1 1036.5,672.3 1037.5,672.6 1038.5,672.9 1039.5,673.2 1040.5,673.5 1041.5,673.8 1042.5,674.1 1043.5,674.4 1044.5,674.7 1045.5,675.0 1046.5,675.4 1047.5,675.7 1048.5,676.1 1049.5,676.4 1050.5,676.8 1051.5,677.2 1052.5,677.6 1053.5,678.0 1054.5,678.4 1055.5,678.8 1056.5,679.2 1057.5,679.6 1058.5,680.1 1059.5,680.5 1060.5,681.0 1061.5,681.4 1062.5,681.9 1063.5,682.4 1064.5,682.9 1065.5,683.4 1066.5,683.9 1067.5,684.4 1068.5,684.9 1069.5,685.4 1070.5,685.9 1071.5,686.5 1072.5,687.0 1073.5,687.6 1074.5,688.2 1075.5,688.7 1076.5,689.3 1077.5,689.9 1078.5,690.5 1079.5,691.1 1080.5,691.7 1081.5,692.3 1082.5,693.0 1083.5,693.6 1084.5,694.2 1085.5,694.9 1086.5,695.6 1087.5,696.2 1088.5,696.9 1089.5,697.6 1090.5,698.3 1091.5,699.0 1092.5,699.7 1093.5,700.4 1094.5,701.1 1095.5,701.9 1096.5,702.6 1097.5,703.4 1098.5,704.1 1099.5,704.9 1100.5,705.6 1101.5,706.4 1102.5,707.2 1103.5,708.0 1104.5,708.8 1105.5,709.6 1106.5,710.4 1107.5,711.2 1108.5,712.1 1109.5,712.9 1110.5,713.7 1111.5,714.6 1112.5,715.4 1113.5,716.3 1114.5,717.2 1115.5,718.1 1116.5,718.9 1117.5,719.8 1118.5,720.7 1119.5,721.6 1120.5,722.5 1121.5,723.4 1122.5,724.3 1123.5,725.3 1124.5,726.2 1125.5,727.1 1126.5,728.1 1127.5,729.0 1128.5,730.0 1129.5,730.9 1130.5,731.9 1131.5,732.9 1132.5,733.8 1133.5,734.8 1134.5,735.8 1135.5,736.8 1136.5,737.8 1137.5,738.8 1138.5,739.8 1139.5,740.8 1140.5,741.8 1141.5,742.8 1142.5,743.9 1143.5,744.9 1144.5,745.9 1145.5,747.0 1146.5,748.0 1147.5,749.1 1148.5,750.1 1149.5,751.2 1150.5,752.2 1151.5,753.3 1152.5,754.4 1153.5,755.4 1154.5,756.5 1155.5,757.6 1156.5,758.7 1157.5,759.8 1158.5,760.9 1159.5,762.0 1160.5,763.1 1161.5,764.2 1162.5,765.3 1163.5,766.4 1164.5,767.5 1165.5,768.6 1166.5,769.8 1167.5,770.9 1168.5,772.0 1169.5,773.1 1170.5,774.3 1171.5,775.4 1172.5,776.6 1173.5,777.7 1174.5,778.9 1175.5,780.0 1176.5,781.2 1177.5,782.3 1178.5,783.5 1179.5,784.7 1180.5,785.9 1181.5,787.1 1182.5,788.3 1183.5,789.5 1184.5,790.7 1185.5,791.9 1186.5,793.1 1187.5,794.3 1188.5,795.6 1189.5,796.8 1190.5,798.0 1191.5,799.3 1192.5,800.6 1193.5,801.8 1194.5,803.1 1195.5,804.4 1196.5,805.7 1197.5,807.0 1198.5,808.3 1199.5,809.6 1200.5,810.9 1201.5,812.2 1202.5,813.5 1203.5,814.9 1204.5,816.2 1205.5,817.5 1206.5,818.9 1207.5,820.2 1208.5,821.5 1209.5,822.9 1210.5,824.2 1211.5,825.6 1212.5,826.9 1213.5,828.2 1214.5,829.6 1215.5,830.9 1216.5,832.3 1217.5,833.6 1218.5,834.9 1219.5,836.2 1220.5,837.5 1221.5,838.9 1222.5,840.2 1223.5,841.5 1224.5,842.8 1225.5,844.0 1226.5,845.3 1227.5,846.6 1228.5,847.9 1229.5,849.1 1230.5,850.4 1231.5,851.7 1232.5,852.9 1233.5,854.2 1234.5,855.4 1235.5,856.6 1236.5,857.9 1237.5,859.1 1238.5,860.3 1239.5,861.5 1240.5,862.8 1241.5,864.0 1242.5,865.2 1243.5,866.4 1244.5,867.5 1245.5,868.7 1246.5,869.9 1247.5,871.1 1248.5,872.2 1249.5,873.4 1250.5,874.6 1251.5,875.7 1252.5,876.9 1253.5,878.0 1254.5,879.1 1255.5,880.3 1256.5,881.4 1257.5,882.5 1258.5,883.6 1259.5,884.8 1260.5,885.9 1261.5,887.0 1262.5,888.1 1263.5,889.1 1264.5,890.2 1265.5,891.3 1266.5,892.4 1267.5,893.5 1268.5,894.5 1269.5,895.6 1270.5,896.6 1271.5,897.7 1272.5,898.7 1273.5,899.8 1274.5,900.8 1275.5,901.8 1276.5,902.8 1277.5,903.9 1278.5,904.9 1279.5,905.9 1280.5,906.9 1281.5,907.9 1282.5,908.9 1283.5,909.9 1284.5,910.8 1285.5,911.8 1286.5,912.8 1287.5,913.8 1288.5,914.7 1289.5,915.7 1290.5,916.6 1291.5,917.6 1292.5,918.5 1293.5,919.4 1294.5,920.4 1295.5,921.3 1296.5,922.2 1297.5,923.1 1298.5,924.0 1299.5,924.9 1300.5,925.8 1301.5,926.7 1302.5,927.6 1303.5,928.5 1304.5,929.4 1305.5,930.2 1306.5,931.1 1307.5,931.9 1308.5,932.8 1309.5,933.6 1310.5,934.4 1311.5,935.2 1312.5,936.1 1313.5,936.9 1314.5,937.7 1315.5,938.5 1316.5,939.2 1317.5,940.0 1318.5,940.8 1319.5,941.5 1320.5,942.3 1321.5,943.0 1322.5,943.7 1323.5,944.4 1324.5,945.2 1325.5,945.9 1326.5,946.5 1327.5,947.2 1328.5,947.9 1329.5,948.5 1330.5,949.2 1331.5,949.8 1332.5,950.5 1333.5,951.1 1334.5,951.7 1335.5,952.3 1336.5,952.9 1337.5,953.4 1338.5,954.0 1339.5,954.6 1340.5,955.1 1341.5,955.6 1342.5,956.1 1343.5,956.6 1344.5,957.1 1345.5,957.6 1346.5,958.1 1347.5,958.5 1348.5,959.0 1349.5,959.4 1350.5,959.8 1351.5,960.2 1352.5,960.6 1353.5,961.0 1354.5,961.4 1355.5,961.7 1356.5,962.0 1357.5,962.4 1357.7,962.4" fill="none" stroke="#000000" stroke-width="6" stroke-dasharray="22.9 20.4"/>
<path d="M225.6,52H335" stroke="#ff0000" stroke-width="5.8"/>
<path d="M588,52H692.5" stroke="#0000ff" stroke-width="6" stroke-dasharray="6 4.8"/>
<path d="M950,52H1059.5" stroke="#000" stroke-width="6" stroke-dasharray="23 20"/>
<text x="340.6" y="77" class="lg" textLength="222.2" lengthAdjust="spacing">Method 1</text>
<text x="702.0" y="77" class="lg" textLength="225.6" lengthAdjust="spacing">Method 2</text>
<text x="1065.8" y="76.6" class="lg" textLength="215.6" lengthAdjust="spacing">reference</text>
<text x="709.2" y="1130.6" class="xl" textLength="130.4" lengthAdjust="spacing">time /s</text>
<g transform="translate(0,0)" fill="none" stroke="#262626">
<circle cx="39.9" cy="249.9" r="6.2" stroke-width="1.6"/>
<path d="M32.4,258.7L66.7,271.2" stroke-width="1.7"/>
</g>
<g transform="translate(0,538)" fill="none" stroke="#262626">
<circle cx="39.9" cy="249.9" r="6.2" stroke-width="1.6"/>
<path d="M32.4,258.7L66.7,271.2" stroke-width="1.7"/>
</g>
<g fill="none" stroke="#262626"><path d="M33.3,289.7L75.5,306.8" stroke-width="2"/></g><path d="M62.97,311.29 61.79,311.83 60.52,312.14 59.17,312.23 57.76,312.09 56.32,311.73 54.86,311.15 53.43,310.36 52.04,309.37 50.71,308.21 49.47,306.89 48.34,305.43 47.34,303.86 46.48,302.21 45.78,300.50 45.26,298.76 44.91,297.03 44.76,295.33 44.79,293.70 45.01,292.15 45.42,290.72 46.00,289.43 46.76,288.30 47.67,287.36 48.72,286.61 49.89,286.07 51.16,285.76 52.51,285.67 53.92,285.81 55.36,286.17 56.82,286.75 58.25,287.54 59.64,288.53 60.97,289.69 62.21,291.01 63.34,292.47 64.34,294.04 65.20,295.69 65.90,297.40 66.42,299.14 66.77,300.87 66.92,302.57 66.89,304.20 66.67,305.75 66.26,307.18 65.68,308.47 64.92,309.60 64.01,310.54ZM63.59,307.36 62.84,307.86 61.98,308.21 61.02,308.40 59.99,308.43 58.89,308.29 57.75,307.99 56.59,307.53 55.42,306.92 54.27,306.17 53.16,305.30 52.11,304.31 51.12,303.24 50.23,302.08 49.45,300.87 48.78,299.62 48.24,298.36 47.85,297.11 47.60,295.89 47.50,294.71 47.55,293.61 47.75,292.59 48.11,291.68 48.60,290.90 49.23,290.24 49.98,289.74 50.84,289.39 51.80,289.20 52.83,289.17 53.93,289.31 55.07,289.61 56.23,290.07 57.40,290.68 58.55,291.43 59.66,292.30 60.71,293.29 61.70,294.36 62.59,295.52 63.37,296.73 64.04,297.98 64.58,299.24 64.97,300.49 65.22,301.71 65.32,302.89 65.27,303.99 65.07,305.01 64.71,305.92 64.22,306.70Z" fill="#262626" fill-rule="evenodd"/>
<g fill="none" stroke="#262626"><path d="M33.3,828.8L75.5,846.9" stroke-width="2"/><path d="M47.5,826.2C54,825.5 60,828 63.5,833 C66.5,837.5 66.5,844 64,847.5 C61.5,850 57,848.8 52,846 C48,844 46,844.5 46.3,847 C46.8,849.5 49.5,851.5 52.5,852.3" stroke-width="2.8" stroke-linecap="round"/></g>
</svg>
</body></html>
